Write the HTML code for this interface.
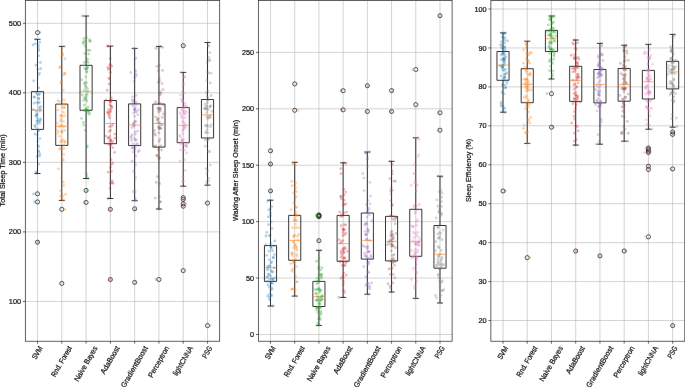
<!DOCTYPE html><html><head><meta charset="utf-8"><title>Sleep metrics box plots</title><style>
html,body{margin:0;padding:0;background:#fff;width:685px;height:387px;overflow:hidden}
svg{display:block}
text{font-family:"Liberation Sans",sans-serif;fill:#111;stroke:#111;stroke-width:0.22px}
</style></head><body>
<svg width="685" height="387" viewBox="0 0 685 387">
<defs><filter id="bl" x="0" y="0" width="685" height="387" filterUnits="userSpaceOnUse"><feConvolveMatrix order="3" kernelMatrix="0.00027 0.01580 0.00027 0.01580 0.93575 0.01580 0.00027 0.01580 0.00027" edgeMode="duplicate"/></filter></defs>
<rect width="685" height="387" fill="#fff"/>
<g filter="url(#bl)">
<path d="M37.5 0.5V341.25M61.79 0.5V341.25M86.08 0.5V341.25M110.37 0.5V341.25M134.65 0.5V341.25M158.94 0.5V341.25M183.23 0.5V341.25M207.52 0.5V341.25M25.36 301.42H219.66M25.36 231.89H219.66M25.36 162.36H219.66M25.36 92.83H219.66M25.36 23.3H219.66" stroke="#b0b0b0" stroke-width="0.75" fill="none" stroke-opacity="0.75"/>
<path d="M270.5 0.5V341.25M294.71 0.5V341.25M318.92 0.5V341.25M343.14 0.5V341.25M367.35 0.5V341.25M391.57 0.5V341.25M415.78 0.5V341.25M439.99 0.5V341.25M258.39 334.5H452.1M258.39 278.07H452.1M258.39 221.65H452.1M258.39 165.22H452.1M258.39 108.8H452.1M258.39 52.38H452.1" stroke="#b0b0b0" stroke-width="0.75" fill="none" stroke-opacity="0.75"/>
<path d="M503 0.5V341.25M527.23 0.5V341.25M551.47 0.5V341.25M575.71 0.5V341.25M599.94 0.5V341.25M624.18 0.5V341.25M648.42 0.5V341.25M672.65 0.5V341.25M490.88 320.52H684.77M490.88 281.58H684.77M490.88 242.64H684.77M490.88 203.7H684.77M490.88 164.76H684.77M490.88 125.82H684.77M490.88 86.88H684.77M490.88 47.94H684.77M490.88 9H684.77" stroke="#b0b0b0" stroke-width="0.75" fill="none" stroke-opacity="0.75"/>
<path d="M31.43 91.6H43.58V129.4H31.43ZM37.5 91.6V39.3M37.5 129.4V173.5M34.47 39.3H40.54M34.47 173.5H40.54M55.72 104.1H67.86V145.4H55.72ZM61.79 104.1V46.4M61.79 145.4V200.4M58.76 46.4H64.83M58.76 200.4H64.83M80.01 65.3H92.15V110.3H80.01ZM86.08 65.3V16M86.08 110.3V178.5M83.04 16H89.11M83.04 178.5H89.11M104.29 100.5H116.44V143.7H104.29ZM110.37 100.5V46.1M110.37 143.7V198.5M107.33 46.1H113.4M107.33 198.5H113.4M128.58 103.9H140.73V145.6H128.58ZM134.65 103.9V48.4M134.65 145.6V200.7M131.62 48.4H137.69M131.62 200.7H137.69M152.87 104.1H165.01V147.1H152.87ZM158.94 104.1V46.4M158.94 147.1V209M155.91 46.4H161.98M155.91 209H161.98M177.16 107.6H189.3V142.7H177.16ZM183.23 107.6V72.4M183.23 142.7V186.2M180.19 72.4H186.26M180.19 186.2H186.26M201.44 99.5H213.59V138H201.44ZM207.52 99.5V42.5M207.52 138V185.2M204.48 42.5H210.55M204.48 185.2H210.55" stroke="#000" stroke-width="0.8" fill="none"/>
<path d="M31.43 110H43.58M55.72 126.2H67.86M80.01 91.3H92.15M104.29 123.5H116.44M128.58 125H140.73M152.87 123.5H165.01M177.16 125.3H189.3M201.44 114.9H213.59" stroke="#ff7f0e" stroke-width="0.65" fill="none"/>
<g fill="none" stroke="#1a1a1a" stroke-width="0.75"><circle cx="37.5" cy="32.6" r="2.05"/><circle cx="37.5" cy="193.8" r="2.05"/><circle cx="37.5" cy="201.9" r="2.05"/><circle cx="37.5" cy="242.2" r="2.05"/><circle cx="61.79" cy="209.3" r="2.05"/><circle cx="61.79" cy="283.4" r="2.05"/><circle cx="86.08" cy="190.4" r="2.05"/><circle cx="86.08" cy="202.4" r="2.05"/><circle cx="110.37" cy="209.3" r="2.05"/><circle cx="110.37" cy="279.5" r="2.05"/><circle cx="134.65" cy="208.8" r="2.05"/><circle cx="134.65" cy="282.4" r="2.05"/><circle cx="158.94" cy="279.5" r="2.05"/><circle cx="183.23" cy="45.7" r="2.05"/><circle cx="183.23" cy="197.6" r="2.05"/><circle cx="183.23" cy="199.4" r="2.05"/><circle cx="183.23" cy="203.9" r="2.05"/><circle cx="183.23" cy="206.2" r="2.05"/><circle cx="183.23" cy="270.6" r="2.05"/><circle cx="207.52" cy="203.1" r="2.05"/><circle cx="207.52" cy="325.6" r="2.05"/></g>
<g fill="#1f77b4" fill-opacity="0.33"><circle cx="35.57" cy="39.3" r="1.4"/><circle cx="36.44" cy="173.5" r="1.4"/><circle cx="40.08" cy="32.6" r="1.4"/><circle cx="33.44" cy="193.8" r="1.4"/><circle cx="34.59" cy="201.9" r="1.4"/><circle cx="37.98" cy="242.2" r="1.4"/><circle cx="40.39" cy="62.52" r="1.4"/><circle cx="38.66" cy="50.68" r="1.4"/><circle cx="33.7" cy="80.81" r="1.4"/><circle cx="33" cy="44.88" r="1.4"/><circle cx="38.22" cy="75.06" r="1.4"/><circle cx="36.03" cy="65.18" r="1.4"/><circle cx="35.26" cy="43.78" r="1.4"/><circle cx="39.46" cy="73.52" r="1.4"/><circle cx="39.71" cy="42.21" r="1.4"/><circle cx="37.82" cy="69.31" r="1.4"/><circle cx="38" cy="44.68" r="1.4"/><circle cx="38.37" cy="46.25" r="1.4"/><circle cx="40.69" cy="68.77" r="1.4"/><circle cx="38.74" cy="87.83" r="1.4"/><circle cx="38.54" cy="48.71" r="1.4"/><circle cx="38.6" cy="55.8" r="1.4"/><circle cx="34.37" cy="103.14" r="1.4"/><circle cx="40.07" cy="109.04" r="1.4"/><circle cx="39.41" cy="102.22" r="1.4"/><circle cx="38.56" cy="98.9" r="1.4"/><circle cx="33.56" cy="109.56" r="1.4"/><circle cx="36.24" cy="92.46" r="1.4"/><circle cx="39.19" cy="107.4" r="1.4"/><circle cx="33.88" cy="96.93" r="1.4"/><circle cx="37.14" cy="94.25" r="1.4"/><circle cx="39.54" cy="93.77" r="1.4"/><circle cx="34.88" cy="97.28" r="1.4"/><circle cx="40.72" cy="106.62" r="1.4"/><circle cx="38.61" cy="94.93" r="1.4"/><circle cx="37.2" cy="102.3" r="1.4"/><circle cx="38.15" cy="103.36" r="1.4"/><circle cx="38.8" cy="98.45" r="1.4"/><circle cx="37.74" cy="120.63" r="1.4"/><circle cx="39.8" cy="111.22" r="1.4"/><circle cx="36.18" cy="111.16" r="1.4"/><circle cx="36.67" cy="114" r="1.4"/><circle cx="39.59" cy="123.2" r="1.4"/><circle cx="37.56" cy="118.3" r="1.4"/><circle cx="35.74" cy="116.09" r="1.4"/><circle cx="39.4" cy="121.36" r="1.4"/><circle cx="40.43" cy="118.79" r="1.4"/><circle cx="36.61" cy="115.82" r="1.4"/><circle cx="34.74" cy="125.41" r="1.4"/><circle cx="37.23" cy="123.56" r="1.4"/><circle cx="37.21" cy="114.74" r="1.4"/><circle cx="36.91" cy="121.14" r="1.4"/><circle cx="40.31" cy="120.19" r="1.4"/><circle cx="35.45" cy="126.98" r="1.4"/><circle cx="40.02" cy="154.39" r="1.4"/><circle cx="34.97" cy="134.09" r="1.4"/><circle cx="35.93" cy="171.94" r="1.4"/><circle cx="38.77" cy="130.34" r="1.4"/><circle cx="39.76" cy="138.58" r="1.4"/><circle cx="39.22" cy="156.13" r="1.4"/><circle cx="38.19" cy="130.88" r="1.4"/><circle cx="37.79" cy="141.57" r="1.4"/><circle cx="37.81" cy="129.53" r="1.4"/><circle cx="38.65" cy="150.74" r="1.4"/><circle cx="37.15" cy="156.6" r="1.4"/><circle cx="38.06" cy="145.59" r="1.4"/><circle cx="38.65" cy="164.11" r="1.4"/><circle cx="37.51" cy="134.87" r="1.4"/><circle cx="39.03" cy="152.33" r="1.4"/><circle cx="38.64" cy="146.69" r="1.4"/></g>
<g fill="#ff7f0e" fill-opacity="0.33"><circle cx="64.32" cy="46.4" r="1.4"/><circle cx="63.28" cy="200.4" r="1.4"/><circle cx="64.74" cy="209.3" r="1.4"/><circle cx="59.92" cy="283.4" r="1.4"/><circle cx="61.79" cy="48.59" r="1.4"/><circle cx="59.51" cy="101.53" r="1.4"/><circle cx="63.32" cy="90.27" r="1.4"/><circle cx="64.97" cy="58.77" r="1.4"/><circle cx="60.01" cy="66.79" r="1.4"/><circle cx="64.91" cy="73.68" r="1.4"/><circle cx="63.77" cy="74.85" r="1.4"/><circle cx="61.44" cy="56.7" r="1.4"/><circle cx="57.85" cy="100.71" r="1.4"/><circle cx="64.6" cy="104.07" r="1.4"/><circle cx="61.6" cy="81.58" r="1.4"/><circle cx="60.59" cy="82.7" r="1.4"/><circle cx="62.59" cy="53.67" r="1.4"/><circle cx="62.61" cy="55.01" r="1.4"/><circle cx="64.79" cy="73.35" r="1.4"/><circle cx="59.75" cy="67.72" r="1.4"/><circle cx="64.06" cy="100.01" r="1.4"/><circle cx="64.77" cy="107.67" r="1.4"/><circle cx="64.7" cy="104.61" r="1.4"/><circle cx="61.43" cy="125.12" r="1.4"/><circle cx="60.3" cy="115.77" r="1.4"/><circle cx="63.83" cy="107.34" r="1.4"/><circle cx="62.02" cy="116.1" r="1.4"/><circle cx="62.04" cy="104.7" r="1.4"/><circle cx="64.64" cy="115.77" r="1.4"/><circle cx="61.26" cy="125.72" r="1.4"/><circle cx="57.29" cy="123.18" r="1.4"/><circle cx="61.02" cy="119.49" r="1.4"/><circle cx="58.08" cy="109.87" r="1.4"/><circle cx="63.43" cy="112.2" r="1.4"/><circle cx="62.43" cy="107.79" r="1.4"/><circle cx="60.57" cy="121.16" r="1.4"/><circle cx="61.77" cy="115.87" r="1.4"/><circle cx="63.46" cy="121.32" r="1.4"/><circle cx="61.95" cy="132.53" r="1.4"/><circle cx="64.44" cy="130.48" r="1.4"/><circle cx="61.67" cy="141.78" r="1.4"/><circle cx="63.87" cy="145.11" r="1.4"/><circle cx="64.77" cy="142.57" r="1.4"/><circle cx="65.01" cy="141.68" r="1.4"/><circle cx="60.45" cy="141.91" r="1.4"/><circle cx="63.55" cy="140.41" r="1.4"/><circle cx="58.04" cy="130.55" r="1.4"/><circle cx="59.62" cy="136.14" r="1.4"/><circle cx="57.87" cy="133.03" r="1.4"/><circle cx="63.93" cy="126.76" r="1.4"/><circle cx="59.33" cy="126.74" r="1.4"/><circle cx="61.77" cy="131.56" r="1.4"/><circle cx="61.41" cy="131.18" r="1.4"/><circle cx="61.73" cy="139.5" r="1.4"/><circle cx="60.61" cy="196.17" r="1.4"/><circle cx="62.26" cy="158.32" r="1.4"/><circle cx="65.37" cy="194.32" r="1.4"/><circle cx="61.88" cy="199.22" r="1.4"/><circle cx="62.85" cy="196.03" r="1.4"/><circle cx="63.79" cy="154.35" r="1.4"/><circle cx="61.4" cy="149.02" r="1.4"/><circle cx="59.27" cy="149.21" r="1.4"/><circle cx="60.68" cy="148.35" r="1.4"/><circle cx="63.94" cy="148.56" r="1.4"/><circle cx="58.5" cy="168.94" r="1.4"/><circle cx="60.6" cy="190.93" r="1.4"/><circle cx="63.81" cy="185.62" r="1.4"/><circle cx="63.38" cy="160.05" r="1.4"/><circle cx="61.81" cy="170.94" r="1.4"/><circle cx="63.4" cy="182.18" r="1.4"/></g>
<g fill="#2ca02c" fill-opacity="0.33"><circle cx="82.19" cy="16" r="1.4"/><circle cx="88.15" cy="178.5" r="1.4"/><circle cx="86.73" cy="190.4" r="1.4"/><circle cx="84.67" cy="202.4" r="1.4"/><circle cx="88.73" cy="54.07" r="1.4"/><circle cx="89.7" cy="41.03" r="1.4"/><circle cx="83.27" cy="43.69" r="1.4"/><circle cx="84.75" cy="53.47" r="1.4"/><circle cx="86.66" cy="60.99" r="1.4"/><circle cx="86.45" cy="37.85" r="1.4"/><circle cx="85.28" cy="46.2" r="1.4"/><circle cx="84.13" cy="40.92" r="1.4"/><circle cx="90.32" cy="41.25" r="1.4"/><circle cx="88.15" cy="50.15" r="1.4"/><circle cx="83.69" cy="38.3" r="1.4"/><circle cx="83.39" cy="42.29" r="1.4"/><circle cx="89.49" cy="39.57" r="1.4"/><circle cx="88.06" cy="62.42" r="1.4"/><circle cx="89.72" cy="50.47" r="1.4"/><circle cx="87.7" cy="59.21" r="1.4"/><circle cx="84.33" cy="62.45" r="1.4"/><circle cx="86.6" cy="72.05" r="1.4"/><circle cx="81.76" cy="79.85" r="1.4"/><circle cx="84.58" cy="89.82" r="1.4"/><circle cx="85.96" cy="87.14" r="1.4"/><circle cx="87.12" cy="68.87" r="1.4"/><circle cx="84.62" cy="68.46" r="1.4"/><circle cx="85.83" cy="76.8" r="1.4"/><circle cx="87" cy="67.19" r="1.4"/><circle cx="86.83" cy="71.56" r="1.4"/><circle cx="87.35" cy="67.2" r="1.4"/><circle cx="86.5" cy="82.71" r="1.4"/><circle cx="85.43" cy="85.68" r="1.4"/><circle cx="87.66" cy="88.62" r="1.4"/><circle cx="86.18" cy="69.32" r="1.4"/><circle cx="84.43" cy="83.92" r="1.4"/><circle cx="84.83" cy="82.47" r="1.4"/><circle cx="86.08" cy="69.02" r="1.4"/><circle cx="85.86" cy="108.07" r="1.4"/><circle cx="86.39" cy="109.68" r="1.4"/><circle cx="86.08" cy="95.47" r="1.4"/><circle cx="86.43" cy="109.4" r="1.4"/><circle cx="85.81" cy="98.87" r="1.4"/><circle cx="83.56" cy="100.56" r="1.4"/><circle cx="86.92" cy="110.11" r="1.4"/><circle cx="88.19" cy="107.12" r="1.4"/><circle cx="86.95" cy="94.37" r="1.4"/><circle cx="85.7" cy="99.5" r="1.4"/><circle cx="86.97" cy="101.1" r="1.4"/><circle cx="84.15" cy="97.74" r="1.4"/><circle cx="82.29" cy="95.02" r="1.4"/><circle cx="86.2" cy="97.35" r="1.4"/><circle cx="84.22" cy="105.02" r="1.4"/><circle cx="87.56" cy="91.67" r="1.4"/><circle cx="83.91" cy="124.99" r="1.4"/><circle cx="81.58" cy="118.39" r="1.4"/><circle cx="84" cy="110.3" r="1.4"/><circle cx="89.23" cy="114.16" r="1.4"/><circle cx="85.32" cy="130.3" r="1.4"/><circle cx="83.34" cy="122.28" r="1.4"/><circle cx="84.55" cy="110.35" r="1.4"/><circle cx="87.12" cy="175.89" r="1.4"/><circle cx="87.07" cy="147.05" r="1.4"/><circle cx="86.43" cy="173.59" r="1.4"/><circle cx="89.05" cy="110.49" r="1.4"/><circle cx="87.49" cy="112.47" r="1.4"/><circle cx="86.04" cy="110.32" r="1.4"/><circle cx="87.27" cy="145.93" r="1.4"/><circle cx="89.39" cy="112.58" r="1.4"/><circle cx="88.02" cy="110.64" r="1.4"/></g>
<g fill="#d62728" fill-opacity="0.33"><circle cx="108.25" cy="46.1" r="1.4"/><circle cx="108.21" cy="198.5" r="1.4"/><circle cx="110.2" cy="209.3" r="1.4"/><circle cx="110.38" cy="279.5" r="1.4"/><circle cx="111.35" cy="97.97" r="1.4"/><circle cx="107.19" cy="90.21" r="1.4"/><circle cx="107.89" cy="67.4" r="1.4"/><circle cx="110.32" cy="64.61" r="1.4"/><circle cx="109.97" cy="68.16" r="1.4"/><circle cx="109.74" cy="78.88" r="1.4"/><circle cx="110.24" cy="58.43" r="1.4"/><circle cx="108.85" cy="78.06" r="1.4"/><circle cx="111.77" cy="66.1" r="1.4"/><circle cx="111.07" cy="100.09" r="1.4"/><circle cx="110.19" cy="100.25" r="1.4"/><circle cx="109.02" cy="83.92" r="1.4"/><circle cx="110.02" cy="64.77" r="1.4"/><circle cx="105.87" cy="100.15" r="1.4"/><circle cx="108.4" cy="69.29" r="1.4"/><circle cx="110.44" cy="72.42" r="1.4"/><circle cx="107.36" cy="46.19" r="1.4"/><circle cx="110.77" cy="109.28" r="1.4"/><circle cx="110.66" cy="111.42" r="1.4"/><circle cx="107.61" cy="112.06" r="1.4"/><circle cx="109.87" cy="105.12" r="1.4"/><circle cx="109.74" cy="112.11" r="1.4"/><circle cx="111.29" cy="100.61" r="1.4"/><circle cx="111.59" cy="106.58" r="1.4"/><circle cx="110.29" cy="102.56" r="1.4"/><circle cx="108.66" cy="109.69" r="1.4"/><circle cx="110.08" cy="101.46" r="1.4"/><circle cx="110.24" cy="101.02" r="1.4"/><circle cx="111.84" cy="107.5" r="1.4"/><circle cx="110.95" cy="105.85" r="1.4"/><circle cx="108.92" cy="113.97" r="1.4"/><circle cx="107.66" cy="112.67" r="1.4"/><circle cx="109.62" cy="117.76" r="1.4"/><circle cx="108.89" cy="115.62" r="1.4"/><circle cx="108.14" cy="137.96" r="1.4"/><circle cx="110.13" cy="141.26" r="1.4"/><circle cx="109.38" cy="131.37" r="1.4"/><circle cx="110.58" cy="130.09" r="1.4"/><circle cx="111.41" cy="143.39" r="1.4"/><circle cx="109.54" cy="126.52" r="1.4"/><circle cx="114.87" cy="138.13" r="1.4"/><circle cx="109.72" cy="136.49" r="1.4"/><circle cx="112.57" cy="124.38" r="1.4"/><circle cx="110.61" cy="140.37" r="1.4"/><circle cx="112.6" cy="141.52" r="1.4"/><circle cx="105.87" cy="136.17" r="1.4"/><circle cx="108.86" cy="138.32" r="1.4"/><circle cx="110.86" cy="139.91" r="1.4"/><circle cx="111.57" cy="126.31" r="1.4"/><circle cx="114.87" cy="134.08" r="1.4"/><circle cx="111.01" cy="159.69" r="1.4"/><circle cx="112.93" cy="183.31" r="1.4"/><circle cx="111.9" cy="180.76" r="1.4"/><circle cx="112.26" cy="182.58" r="1.4"/><circle cx="111.39" cy="164.52" r="1.4"/><circle cx="110.05" cy="188.39" r="1.4"/><circle cx="111.38" cy="171.28" r="1.4"/><circle cx="108.21" cy="172.04" r="1.4"/><circle cx="112.73" cy="147.59" r="1.4"/><circle cx="108.33" cy="143.81" r="1.4"/><circle cx="110.86" cy="145.15" r="1.4"/><circle cx="114.61" cy="152.44" r="1.4"/><circle cx="109.92" cy="144.65" r="1.4"/><circle cx="110.41" cy="183.38" r="1.4"/><circle cx="112.69" cy="162.91" r="1.4"/><circle cx="110.42" cy="167.4" r="1.4"/></g>
<g fill="#9467bd" fill-opacity="0.33"><circle cx="133.61" cy="48.4" r="1.4"/><circle cx="134.99" cy="200.7" r="1.4"/><circle cx="134.96" cy="208.8" r="1.4"/><circle cx="135.47" cy="282.4" r="1.4"/><circle cx="134.18" cy="81.31" r="1.4"/><circle cx="135.39" cy="71.53" r="1.4"/><circle cx="134.76" cy="59.69" r="1.4"/><circle cx="136.2" cy="74.41" r="1.4"/><circle cx="130.87" cy="72.51" r="1.4"/><circle cx="132.88" cy="100.36" r="1.4"/><circle cx="134.65" cy="48.54" r="1.4"/><circle cx="132.59" cy="96.99" r="1.4"/><circle cx="132.56" cy="100.32" r="1.4"/><circle cx="135.91" cy="58.09" r="1.4"/><circle cx="133.35" cy="102.79" r="1.4"/><circle cx="135.92" cy="95.37" r="1.4"/><circle cx="136.15" cy="102.19" r="1.4"/><circle cx="135.27" cy="70.69" r="1.4"/><circle cx="135.67" cy="76.29" r="1.4"/><circle cx="134.44" cy="77.65" r="1.4"/><circle cx="131.84" cy="103.9" r="1.4"/><circle cx="134.59" cy="116.33" r="1.4"/><circle cx="135.56" cy="111.51" r="1.4"/><circle cx="133.59" cy="112.93" r="1.4"/><circle cx="134.45" cy="109.71" r="1.4"/><circle cx="136.15" cy="104.92" r="1.4"/><circle cx="132.9" cy="106.05" r="1.4"/><circle cx="135.93" cy="121.51" r="1.4"/><circle cx="138.38" cy="109.93" r="1.4"/><circle cx="133.54" cy="123.64" r="1.4"/><circle cx="134.95" cy="109.16" r="1.4"/><circle cx="134.35" cy="109.51" r="1.4"/><circle cx="137.73" cy="114.68" r="1.4"/><circle cx="135.29" cy="107.91" r="1.4"/><circle cx="136.45" cy="111.78" r="1.4"/><circle cx="133.27" cy="124.08" r="1.4"/><circle cx="134.62" cy="122.56" r="1.4"/><circle cx="134.63" cy="121.03" r="1.4"/><circle cx="131.1" cy="138" r="1.4"/><circle cx="137.54" cy="143.82" r="1.4"/><circle cx="136.45" cy="144.38" r="1.4"/><circle cx="131.16" cy="136.31" r="1.4"/><circle cx="136.14" cy="139.82" r="1.4"/><circle cx="134.39" cy="126.02" r="1.4"/><circle cx="135.55" cy="140.09" r="1.4"/><circle cx="135.39" cy="134.29" r="1.4"/><circle cx="131.66" cy="140.5" r="1.4"/><circle cx="134.23" cy="138.28" r="1.4"/><circle cx="137.64" cy="130.9" r="1.4"/><circle cx="133.5" cy="126.01" r="1.4"/><circle cx="132.61" cy="144.09" r="1.4"/><circle cx="131.93" cy="127.62" r="1.4"/><circle cx="132.21" cy="134.73" r="1.4"/><circle cx="135.32" cy="132.08" r="1.4"/><circle cx="138.04" cy="151.83" r="1.4"/><circle cx="135.51" cy="177.57" r="1.4"/><circle cx="135.14" cy="198.37" r="1.4"/><circle cx="139.12" cy="150.48" r="1.4"/><circle cx="133.61" cy="171.4" r="1.4"/><circle cx="133.31" cy="151.94" r="1.4"/><circle cx="135.71" cy="164.84" r="1.4"/><circle cx="135.75" cy="155.92" r="1.4"/><circle cx="132.62" cy="147.81" r="1.4"/><circle cx="132.31" cy="147.67" r="1.4"/><circle cx="135.24" cy="148.86" r="1.4"/><circle cx="135.15" cy="191.73" r="1.4"/><circle cx="132.04" cy="161.26" r="1.4"/><circle cx="134.25" cy="149.21" r="1.4"/><circle cx="133.57" cy="191.75" r="1.4"/><circle cx="135.57" cy="200.35" r="1.4"/></g>
<g fill="#8c564b" fill-opacity="0.33"><circle cx="160.56" cy="46.4" r="1.4"/><circle cx="158.97" cy="209" r="1.4"/><circle cx="155.97" cy="279.5" r="1.4"/><circle cx="162.95" cy="89.56" r="1.4"/><circle cx="162.62" cy="47.3" r="1.4"/><circle cx="162.56" cy="70.42" r="1.4"/><circle cx="159.44" cy="81.25" r="1.4"/><circle cx="160.75" cy="103.62" r="1.4"/><circle cx="160.56" cy="91.87" r="1.4"/><circle cx="155.59" cy="101.81" r="1.4"/><circle cx="158.36" cy="82.17" r="1.4"/><circle cx="159.2" cy="65.48" r="1.4"/><circle cx="157.04" cy="66.4" r="1.4"/><circle cx="159.26" cy="103.65" r="1.4"/><circle cx="160.09" cy="94.84" r="1.4"/><circle cx="158.31" cy="70.84" r="1.4"/><circle cx="156.14" cy="48.28" r="1.4"/><circle cx="162.15" cy="83.6" r="1.4"/><circle cx="160.96" cy="93.38" r="1.4"/><circle cx="159.33" cy="78.61" r="1.4"/><circle cx="160.23" cy="109.09" r="1.4"/><circle cx="155.78" cy="117.05" r="1.4"/><circle cx="159.46" cy="122.05" r="1.4"/><circle cx="159.08" cy="108.5" r="1.4"/><circle cx="163.09" cy="104.76" r="1.4"/><circle cx="160.66" cy="110.66" r="1.4"/><circle cx="158.8" cy="112.26" r="1.4"/><circle cx="162.26" cy="117.34" r="1.4"/><circle cx="160.4" cy="107.94" r="1.4"/><circle cx="157.86" cy="119.56" r="1.4"/><circle cx="158.24" cy="118.44" r="1.4"/><circle cx="163.44" cy="113.89" r="1.4"/><circle cx="157.78" cy="108.08" r="1.4"/><circle cx="157.9" cy="122.92" r="1.4"/><circle cx="158.58" cy="110.15" r="1.4"/><circle cx="157.23" cy="120.01" r="1.4"/><circle cx="158.91" cy="108.58" r="1.4"/><circle cx="159.11" cy="128.73" r="1.4"/><circle cx="159.1" cy="141.45" r="1.4"/><circle cx="154.49" cy="130.46" r="1.4"/><circle cx="155.75" cy="145.97" r="1.4"/><circle cx="155.37" cy="135.2" r="1.4"/><circle cx="160.38" cy="127.92" r="1.4"/><circle cx="159.16" cy="128.77" r="1.4"/><circle cx="154.44" cy="133.34" r="1.4"/><circle cx="159.72" cy="139.2" r="1.4"/><circle cx="160.84" cy="145.89" r="1.4"/><circle cx="158.38" cy="126.95" r="1.4"/><circle cx="158.93" cy="132.79" r="1.4"/><circle cx="161.06" cy="128.53" r="1.4"/><circle cx="154.44" cy="146.49" r="1.4"/><circle cx="159.13" cy="126.85" r="1.4"/><circle cx="160.41" cy="124.72" r="1.4"/><circle cx="162.23" cy="124.92" r="1.4"/><circle cx="158.67" cy="158.64" r="1.4"/><circle cx="155.23" cy="198.12" r="1.4"/><circle cx="159.33" cy="196.64" r="1.4"/><circle cx="156.23" cy="182.47" r="1.4"/><circle cx="158.12" cy="208.73" r="1.4"/><circle cx="160.49" cy="201.59" r="1.4"/><circle cx="156.68" cy="155.48" r="1.4"/><circle cx="161.61" cy="150.08" r="1.4"/><circle cx="160.11" cy="202.04" r="1.4"/><circle cx="159.57" cy="183.65" r="1.4"/><circle cx="158.97" cy="147.23" r="1.4"/><circle cx="157.43" cy="176.76" r="1.4"/><circle cx="159.42" cy="157.88" r="1.4"/><circle cx="159.15" cy="157.63" r="1.4"/><circle cx="157.26" cy="155.59" r="1.4"/><circle cx="158.37" cy="149.63" r="1.4"/></g>
<g fill="#e377c2" fill-opacity="0.33"><circle cx="180.87" cy="72.4" r="1.4"/><circle cx="181.53" cy="186.2" r="1.4"/><circle cx="183.32" cy="45.7" r="1.4"/><circle cx="183.52" cy="197.6" r="1.4"/><circle cx="181.82" cy="199.4" r="1.4"/><circle cx="185.89" cy="203.9" r="1.4"/><circle cx="183.91" cy="206.2" r="1.4"/><circle cx="184.82" cy="270.6" r="1.4"/><circle cx="184.26" cy="107.5" r="1.4"/><circle cx="186.64" cy="106.2" r="1.4"/><circle cx="182.54" cy="107.55" r="1.4"/><circle cx="183.01" cy="85.41" r="1.4"/><circle cx="184.84" cy="76.74" r="1.4"/><circle cx="184.42" cy="77.37" r="1.4"/><circle cx="180.51" cy="95.1" r="1.4"/><circle cx="182.34" cy="102.1" r="1.4"/><circle cx="184.23" cy="93.12" r="1.4"/><circle cx="183.88" cy="84.01" r="1.4"/><circle cx="182.54" cy="91.92" r="1.4"/><circle cx="181.29" cy="99.36" r="1.4"/><circle cx="182.87" cy="101.05" r="1.4"/><circle cx="184.91" cy="103.15" r="1.4"/><circle cx="184.89" cy="105.49" r="1.4"/><circle cx="182.73" cy="100.76" r="1.4"/><circle cx="181.51" cy="109.74" r="1.4"/><circle cx="182.47" cy="122.48" r="1.4"/><circle cx="179.77" cy="112.8" r="1.4"/><circle cx="185.23" cy="117.63" r="1.4"/><circle cx="185.13" cy="114.2" r="1.4"/><circle cx="183.19" cy="120.66" r="1.4"/><circle cx="184.28" cy="111.13" r="1.4"/><circle cx="186.28" cy="111.98" r="1.4"/><circle cx="183.29" cy="111.94" r="1.4"/><circle cx="183.44" cy="110.31" r="1.4"/><circle cx="184.94" cy="123.25" r="1.4"/><circle cx="182.01" cy="117.84" r="1.4"/><circle cx="184.1" cy="113.38" r="1.4"/><circle cx="181.38" cy="114.61" r="1.4"/><circle cx="184.88" cy="125.17" r="1.4"/><circle cx="181.74" cy="116.58" r="1.4"/><circle cx="183.41" cy="129.33" r="1.4"/><circle cx="183.52" cy="139.37" r="1.4"/><circle cx="180.52" cy="136.67" r="1.4"/><circle cx="182.32" cy="142.54" r="1.4"/><circle cx="183.96" cy="127.08" r="1.4"/><circle cx="182.77" cy="133.56" r="1.4"/><circle cx="181.84" cy="139.55" r="1.4"/><circle cx="181.89" cy="139.93" r="1.4"/><circle cx="182.11" cy="141.21" r="1.4"/><circle cx="183.2" cy="126" r="1.4"/><circle cx="182.72" cy="130.41" r="1.4"/><circle cx="185.6" cy="127.37" r="1.4"/><circle cx="184.09" cy="128.6" r="1.4"/><circle cx="182.8" cy="142.23" r="1.4"/><circle cx="179.62" cy="135.45" r="1.4"/><circle cx="183.44" cy="180.89" r="1.4"/><circle cx="184.53" cy="150.04" r="1.4"/><circle cx="182.95" cy="176.28" r="1.4"/><circle cx="186.58" cy="153" r="1.4"/><circle cx="186.65" cy="146.55" r="1.4"/><circle cx="185.5" cy="170.37" r="1.4"/><circle cx="182.88" cy="182.04" r="1.4"/><circle cx="187.54" cy="143.46" r="1.4"/><circle cx="184.73" cy="159.84" r="1.4"/><circle cx="179.93" cy="161.1" r="1.4"/><circle cx="186.03" cy="145.5" r="1.4"/><circle cx="180.51" cy="149.92" r="1.4"/><circle cx="180.67" cy="143.99" r="1.4"/><circle cx="185.1" cy="145.19" r="1.4"/><circle cx="186.2" cy="146.42" r="1.4"/></g>
<g fill="#7f7f7f" fill-opacity="0.33"><circle cx="208.18" cy="42.5" r="1.4"/><circle cx="207.21" cy="185.2" r="1.4"/><circle cx="205.53" cy="203.1" r="1.4"/><circle cx="210.22" cy="325.6" r="1.4"/><circle cx="209.83" cy="60.39" r="1.4"/><circle cx="211.1" cy="73.31" r="1.4"/><circle cx="206.94" cy="96.07" r="1.4"/><circle cx="211.15" cy="95.48" r="1.4"/><circle cx="208.98" cy="57.4" r="1.4"/><circle cx="209.37" cy="60.09" r="1.4"/><circle cx="208.71" cy="72.99" r="1.4"/><circle cx="206.86" cy="80.42" r="1.4"/><circle cx="207.32" cy="71.91" r="1.4"/><circle cx="209.88" cy="52.69" r="1.4"/><circle cx="207.29" cy="62.26" r="1.4"/><circle cx="208.01" cy="91.27" r="1.4"/><circle cx="208.01" cy="97.62" r="1.4"/><circle cx="208.6" cy="45.98" r="1.4"/><circle cx="210.3" cy="83" r="1.4"/><circle cx="206.34" cy="92.69" r="1.4"/><circle cx="208.48" cy="45.73" r="1.4"/><circle cx="206.77" cy="112.41" r="1.4"/><circle cx="207.73" cy="101.31" r="1.4"/><circle cx="206.55" cy="108.73" r="1.4"/><circle cx="204.72" cy="107.97" r="1.4"/><circle cx="206.97" cy="109.16" r="1.4"/><circle cx="204.93" cy="104.22" r="1.4"/><circle cx="210.65" cy="105.97" r="1.4"/><circle cx="205.04" cy="108.47" r="1.4"/><circle cx="206.62" cy="106.06" r="1.4"/><circle cx="208.21" cy="109.65" r="1.4"/><circle cx="206.88" cy="106.38" r="1.4"/><circle cx="210.33" cy="106.25" r="1.4"/><circle cx="207.39" cy="99.86" r="1.4"/><circle cx="204.7" cy="109.03" r="1.4"/><circle cx="209.72" cy="107.04" r="1.4"/><circle cx="206.95" cy="103.12" r="1.4"/><circle cx="212.02" cy="111.26" r="1.4"/><circle cx="205.84" cy="132.92" r="1.4"/><circle cx="206.63" cy="125.49" r="1.4"/><circle cx="207.71" cy="119.05" r="1.4"/><circle cx="205.36" cy="125.83" r="1.4"/><circle cx="208.98" cy="117.37" r="1.4"/><circle cx="210.47" cy="117.87" r="1.4"/><circle cx="211.05" cy="124.85" r="1.4"/><circle cx="208.62" cy="117.02" r="1.4"/><circle cx="207.45" cy="125.11" r="1.4"/><circle cx="210.37" cy="126.68" r="1.4"/><circle cx="210.16" cy="115.84" r="1.4"/><circle cx="207.25" cy="129.6" r="1.4"/><circle cx="206.62" cy="116.8" r="1.4"/><circle cx="206.03" cy="131.84" r="1.4"/><circle cx="208.04" cy="132.86" r="1.4"/><circle cx="207.52" cy="126.72" r="1.4"/><circle cx="209.15" cy="138.25" r="1.4"/><circle cx="209.75" cy="151.75" r="1.4"/><circle cx="205.33" cy="146.19" r="1.4"/><circle cx="208.51" cy="181.11" r="1.4"/><circle cx="208.36" cy="139.3" r="1.4"/><circle cx="206.87" cy="173.76" r="1.4"/><circle cx="207.93" cy="184.87" r="1.4"/><circle cx="210.4" cy="164.92" r="1.4"/><circle cx="207.66" cy="170.66" r="1.4"/><circle cx="207.54" cy="140.46" r="1.4"/><circle cx="206.94" cy="183.66" r="1.4"/><circle cx="208.27" cy="151.16" r="1.4"/><circle cx="206.63" cy="181.58" r="1.4"/><circle cx="208.63" cy="178.31" r="1.4"/><circle cx="205.21" cy="139.84" r="1.4"/><circle cx="206.18" cy="168.77" r="1.4"/></g>
<rect x="25.36" y="0.5" width="194.3" height="340.75" fill="none" stroke="#3a3a3a" stroke-width="0.8"/>
<path d="M22.96 301.42H25.36M22.96 231.89H25.36M22.96 162.36H25.36M22.96 92.83H25.36M22.96 23.3H25.36M37.5 341.25V343.65M61.79 341.25V343.65M86.08 341.25V343.65M110.37 341.25V343.65M134.65 341.25V343.65M158.94 341.25V343.65M183.23 341.25V343.65M207.52 341.25V343.65" stroke="#3a3a3a" stroke-width="0.8" fill="none"/>
<text x="21.06" y="304.02" font-size="7.3" text-anchor="end">100</text>
<text x="21.06" y="234.49" font-size="7.3" text-anchor="end">200</text>
<text x="21.06" y="164.96" font-size="7.3" text-anchor="end">300</text>
<text x="21.06" y="95.43" font-size="7.3" text-anchor="end">400</text>
<text x="21.06" y="25.9" font-size="7.3" text-anchor="end">500</text>
<text transform="translate(5.06 170.4) rotate(-90)" font-size="7.24" text-anchor="middle" textLength="72" lengthAdjust="spacingAndGlyphs">Total Sleep Time (min)</text>
<text transform="translate(42.9 348) rotate(-60)" font-size="7.6" text-anchor="end" textLength="14" lengthAdjust="spacingAndGlyphs">SVM</text>
<text transform="translate(72.24 348) rotate(-60)" font-size="7.6" text-anchor="end" textLength="34.2" lengthAdjust="spacingAndGlyphs">Rnd. Forest</text>
<text transform="translate(97.8 348) rotate(-60)" font-size="7.6" text-anchor="end" textLength="39.3" lengthAdjust="spacingAndGlyphs">Naive Bayes</text>
<text transform="translate(119.92 348) rotate(-60)" font-size="7.6" text-anchor="end" textLength="30.6" lengthAdjust="spacingAndGlyphs">AdaBoost</text>
<text transform="translate(148.18 348) rotate(-60)" font-size="7.6" text-anchor="end" textLength="46.5" lengthAdjust="spacingAndGlyphs">GradientBoost</text>
<text transform="translate(169.54 348) rotate(-60)" font-size="7.6" text-anchor="end" textLength="34.8" lengthAdjust="spacingAndGlyphs">Perceptron</text>
<text transform="translate(193.28 348) rotate(-60)" font-size="7.6" text-anchor="end" textLength="32.6" lengthAdjust="spacingAndGlyphs">lightCNNA</text>
<text transform="translate(212.57 348) rotate(-60)" font-size="7.6" text-anchor="end" textLength="12.6" lengthAdjust="spacingAndGlyphs">PSG</text>
<path d="M264.44 245.6H276.55V281.4H264.44ZM270.5 245.6V200.2M270.5 281.4V306M267.47 200.2H273.52M267.47 306H273.52M288.66 215.4H300.76V260.3H288.66ZM294.71 215.4V162.3M294.71 260.3V296.1M291.68 162.3H297.74M291.68 296.1H297.74M312.87 281.4H324.98V306.5H312.87ZM318.92 281.4V250.3M318.92 306.5V325.4M315.9 250.3H321.95M315.9 325.4H321.95M337.08 215.4H349.19V261.3H337.08ZM343.14 215.4V162.8M343.14 261.3V297.4M340.11 162.8H346.16M340.11 297.4H346.16M361.3 213H373.41V259.1H361.3ZM367.35 213V152M367.35 259.1V294.2M364.33 152H370.38M364.33 294.2H370.38M385.51 216.4H397.62V260.9H385.51ZM391.57 216.4V161.3M391.57 260.9V292M388.54 161.3H394.59M388.54 292H394.59M409.73 209.3H421.83V256.3H409.73ZM415.78 209.3V137.8M415.78 256.3V298.4M412.75 137.8H418.81M412.75 298.4H418.81M433.94 225.5H446.05V268.2H433.94ZM439.99 225.5V176.2M439.99 268.2V303M436.97 176.2H443.02M436.97 303H443.02" stroke="#000" stroke-width="0.8" fill="none"/>
<path d="M264.44 267.7H276.55M288.66 240.4H300.76M312.87 296.6H324.98M337.08 243.6H349.19M361.3 240.4H373.41M385.51 241.4H397.62M409.73 241.7H421.83M433.94 254.3H446.05" stroke="#ff7f0e" stroke-width="0.65" fill="none"/>
<g fill="none" stroke="#1a1a1a" stroke-width="0.75"><circle cx="270.5" cy="150.8" r="2.05"/><circle cx="270.5" cy="164" r="2.05"/><circle cx="270.5" cy="190.9" r="2.05"/><circle cx="294.71" cy="83.9" r="2.05"/><circle cx="294.71" cy="110.3" r="2.05"/><circle cx="318.92" cy="214.9" r="2.05"/><circle cx="318.92" cy="215.5" r="2.05"/><circle cx="318.92" cy="216.1" r="2.05"/><circle cx="318.92" cy="216.7" r="2.05"/><circle cx="318.92" cy="240.7" r="2.05"/><circle cx="343.14" cy="90.7" r="2.05"/><circle cx="343.14" cy="109.8" r="2.05"/><circle cx="367.35" cy="85.7" r="2.05"/><circle cx="367.35" cy="111.5" r="2.05"/><circle cx="391.57" cy="90.6" r="2.05"/><circle cx="391.57" cy="111.5" r="2.05"/><circle cx="415.78" cy="69.5" r="2.05"/><circle cx="415.78" cy="104.6" r="2.05"/><circle cx="439.99" cy="15.7" r="2.05"/><circle cx="439.99" cy="112.7" r="2.05"/><circle cx="439.99" cy="130.2" r="2.05"/></g>
<g fill="#1f77b4" fill-opacity="0.33"><circle cx="270.22" cy="200.2" r="1.4"/><circle cx="273.35" cy="306" r="1.4"/><circle cx="271.86" cy="150.8" r="1.4"/><circle cx="270.19" cy="164" r="1.4"/><circle cx="270.75" cy="190.9" r="1.4"/><circle cx="270.26" cy="213.37" r="1.4"/><circle cx="270.4" cy="235.13" r="1.4"/><circle cx="271.96" cy="228.33" r="1.4"/><circle cx="270.31" cy="209.06" r="1.4"/><circle cx="266" cy="244.88" r="1.4"/><circle cx="270.45" cy="215.73" r="1.4"/><circle cx="268.72" cy="209.98" r="1.4"/><circle cx="271.8" cy="206.57" r="1.4"/><circle cx="269.28" cy="235.72" r="1.4"/><circle cx="270.79" cy="243.5" r="1.4"/><circle cx="274.85" cy="240.98" r="1.4"/><circle cx="268.4" cy="224.6" r="1.4"/><circle cx="268.25" cy="216.95" r="1.4"/><circle cx="267.67" cy="200.98" r="1.4"/><circle cx="266" cy="236" r="1.4"/><circle cx="266.74" cy="232.45" r="1.4"/><circle cx="271.23" cy="221.83" r="1.4"/><circle cx="269.22" cy="259.87" r="1.4"/><circle cx="266.76" cy="255.41" r="1.4"/><circle cx="267.53" cy="266.31" r="1.4"/><circle cx="271.73" cy="261.81" r="1.4"/><circle cx="268.95" cy="251.09" r="1.4"/><circle cx="269.76" cy="265.57" r="1.4"/><circle cx="271.16" cy="246.57" r="1.4"/><circle cx="273.21" cy="257.35" r="1.4"/><circle cx="274.38" cy="254.57" r="1.4"/><circle cx="272.56" cy="250.85" r="1.4"/><circle cx="270.78" cy="246.89" r="1.4"/><circle cx="270.87" cy="262.81" r="1.4"/><circle cx="274.1" cy="245.87" r="1.4"/><circle cx="273.35" cy="257.78" r="1.4"/><circle cx="269.88" cy="266.39" r="1.4"/><circle cx="271.41" cy="248.74" r="1.4"/><circle cx="271.07" cy="270.43" r="1.4"/><circle cx="270.6" cy="276.03" r="1.4"/><circle cx="269.5" cy="274.65" r="1.4"/><circle cx="267.84" cy="276.49" r="1.4"/><circle cx="269.43" cy="278.84" r="1.4"/><circle cx="267.41" cy="270.09" r="1.4"/><circle cx="272.94" cy="271.94" r="1.4"/><circle cx="271.57" cy="271.81" r="1.4"/><circle cx="268.08" cy="268.36" r="1.4"/><circle cx="273.29" cy="279.88" r="1.4"/><circle cx="272.28" cy="278.43" r="1.4"/><circle cx="266.68" cy="277.5" r="1.4"/><circle cx="274.18" cy="267.79" r="1.4"/><circle cx="272.12" cy="279.27" r="1.4"/><circle cx="274.63" cy="277.91" r="1.4"/><circle cx="268.03" cy="274.07" r="1.4"/><circle cx="271.56" cy="295.77" r="1.4"/><circle cx="271.34" cy="287.3" r="1.4"/><circle cx="270.9" cy="283.09" r="1.4"/><circle cx="270.84" cy="281.83" r="1.4"/><circle cx="272.6" cy="283.18" r="1.4"/><circle cx="267.51" cy="281.47" r="1.4"/><circle cx="268.01" cy="284.85" r="1.4"/><circle cx="267.71" cy="296.04" r="1.4"/><circle cx="269.38" cy="294.18" r="1.4"/><circle cx="269.29" cy="299.58" r="1.4"/><circle cx="271.23" cy="294.74" r="1.4"/><circle cx="271.03" cy="283.67" r="1.4"/><circle cx="270.56" cy="289.89" r="1.4"/><circle cx="269.14" cy="286.92" r="1.4"/><circle cx="269.61" cy="297.44" r="1.4"/><circle cx="272.4" cy="289.07" r="1.4"/></g>
<g fill="#ff7f0e" fill-opacity="0.33"><circle cx="293.68" cy="162.3" r="1.4"/><circle cx="296.16" cy="296.1" r="1.4"/><circle cx="296.87" cy="83.9" r="1.4"/><circle cx="297.9" cy="110.3" r="1.4"/><circle cx="292.98" cy="163.96" r="1.4"/><circle cx="291.91" cy="181.37" r="1.4"/><circle cx="295.75" cy="183.13" r="1.4"/><circle cx="296.59" cy="207.35" r="1.4"/><circle cx="295.1" cy="188.72" r="1.4"/><circle cx="292.11" cy="185.68" r="1.4"/><circle cx="296.27" cy="215.04" r="1.4"/><circle cx="296.3" cy="196.84" r="1.4"/><circle cx="295.82" cy="212.36" r="1.4"/><circle cx="293.74" cy="202.88" r="1.4"/><circle cx="295.32" cy="164.75" r="1.4"/><circle cx="296.29" cy="191.51" r="1.4"/><circle cx="293.59" cy="192.94" r="1.4"/><circle cx="291.02" cy="209.66" r="1.4"/><circle cx="295.37" cy="187.37" r="1.4"/><circle cx="295.67" cy="206.88" r="1.4"/><circle cx="294.74" cy="198.72" r="1.4"/><circle cx="296.49" cy="220.81" r="1.4"/><circle cx="293.54" cy="236.96" r="1.4"/><circle cx="294.55" cy="217.67" r="1.4"/><circle cx="294.1" cy="235.9" r="1.4"/><circle cx="295.85" cy="219.66" r="1.4"/><circle cx="297.9" cy="215.43" r="1.4"/><circle cx="294.21" cy="220.45" r="1.4"/><circle cx="298.82" cy="234.45" r="1.4"/><circle cx="297.77" cy="239.85" r="1.4"/><circle cx="296.29" cy="215.51" r="1.4"/><circle cx="295.88" cy="227.67" r="1.4"/><circle cx="298.25" cy="227.69" r="1.4"/><circle cx="294.35" cy="235.32" r="1.4"/><circle cx="294.49" cy="220.01" r="1.4"/><circle cx="292.59" cy="227.76" r="1.4"/><circle cx="295.66" cy="224.08" r="1.4"/><circle cx="297.4" cy="236.2" r="1.4"/><circle cx="295.78" cy="245.59" r="1.4"/><circle cx="295.56" cy="259.18" r="1.4"/><circle cx="294.31" cy="246.05" r="1.4"/><circle cx="295.05" cy="244.67" r="1.4"/><circle cx="291.86" cy="254.32" r="1.4"/><circle cx="296.81" cy="250.32" r="1.4"/><circle cx="293.89" cy="242.59" r="1.4"/><circle cx="292.5" cy="253.07" r="1.4"/><circle cx="293.21" cy="242.01" r="1.4"/><circle cx="293.06" cy="256.08" r="1.4"/><circle cx="296.42" cy="254.27" r="1.4"/><circle cx="296.83" cy="256.06" r="1.4"/><circle cx="292" cy="252.9" r="1.4"/><circle cx="296.56" cy="247.48" r="1.4"/><circle cx="296.49" cy="248.39" r="1.4"/><circle cx="293.55" cy="248.25" r="1.4"/><circle cx="291.74" cy="289.35" r="1.4"/><circle cx="293.22" cy="260.73" r="1.4"/><circle cx="293.44" cy="289.23" r="1.4"/><circle cx="295.4" cy="260.35" r="1.4"/><circle cx="294" cy="262.39" r="1.4"/><circle cx="290.65" cy="263.54" r="1.4"/><circle cx="295.18" cy="289.99" r="1.4"/><circle cx="291.64" cy="270.62" r="1.4"/><circle cx="296.52" cy="266.55" r="1.4"/><circle cx="292.3" cy="288.97" r="1.4"/><circle cx="293.32" cy="262.91" r="1.4"/><circle cx="293" cy="269.18" r="1.4"/><circle cx="293.63" cy="271.78" r="1.4"/><circle cx="297.31" cy="281.86" r="1.4"/><circle cx="296.41" cy="281.78" r="1.4"/><circle cx="295.91" cy="276.62" r="1.4"/></g>
<g fill="#2ca02c" fill-opacity="0.33"><circle cx="320.74" cy="250.3" r="1.4"/><circle cx="318.5" cy="325.4" r="1.4"/><circle cx="316.55" cy="214.9" r="1.4"/><circle cx="316.09" cy="215.5" r="1.4"/><circle cx="319.83" cy="216.1" r="1.4"/><circle cx="316.87" cy="216.7" r="1.4"/><circle cx="318.23" cy="240.7" r="1.4"/><circle cx="321.35" cy="278.24" r="1.4"/><circle cx="321.6" cy="276.62" r="1.4"/><circle cx="321.61" cy="274.39" r="1.4"/><circle cx="316.54" cy="261.2" r="1.4"/><circle cx="322.01" cy="267.79" r="1.4"/><circle cx="318.71" cy="268.89" r="1.4"/><circle cx="320.86" cy="274.16" r="1.4"/><circle cx="318.88" cy="267.28" r="1.4"/><circle cx="321.03" cy="275.64" r="1.4"/><circle cx="318.98" cy="280.83" r="1.4"/><circle cx="319.06" cy="258.44" r="1.4"/><circle cx="318.64" cy="275.08" r="1.4"/><circle cx="317.32" cy="278.15" r="1.4"/><circle cx="318.98" cy="266.54" r="1.4"/><circle cx="320.62" cy="270.07" r="1.4"/><circle cx="316.83" cy="281.27" r="1.4"/><circle cx="319.2" cy="281.98" r="1.4"/><circle cx="317.02" cy="289.66" r="1.4"/><circle cx="316.7" cy="283.84" r="1.4"/><circle cx="315.94" cy="293.28" r="1.4"/><circle cx="322.42" cy="295.7" r="1.4"/><circle cx="319.34" cy="289.29" r="1.4"/><circle cx="318.38" cy="282.94" r="1.4"/><circle cx="320.97" cy="290.13" r="1.4"/><circle cx="315.09" cy="289.62" r="1.4"/><circle cx="319.16" cy="292.3" r="1.4"/><circle cx="317.85" cy="289.19" r="1.4"/><circle cx="320.31" cy="291.12" r="1.4"/><circle cx="316.45" cy="294" r="1.4"/><circle cx="319.23" cy="289.33" r="1.4"/><circle cx="318.95" cy="287.64" r="1.4"/><circle cx="321.71" cy="295.81" r="1.4"/><circle cx="318.05" cy="298.68" r="1.4"/><circle cx="318.92" cy="303.38" r="1.4"/><circle cx="319.85" cy="300.49" r="1.4"/><circle cx="319.83" cy="304.15" r="1.4"/><circle cx="320.06" cy="297.81" r="1.4"/><circle cx="319.23" cy="306.35" r="1.4"/><circle cx="317.1" cy="300.12" r="1.4"/><circle cx="321.41" cy="297.16" r="1.4"/><circle cx="322.47" cy="299.32" r="1.4"/><circle cx="319.24" cy="300.56" r="1.4"/><circle cx="317.75" cy="296.73" r="1.4"/><circle cx="321.05" cy="300.74" r="1.4"/><circle cx="317.19" cy="300.76" r="1.4"/><circle cx="319.5" cy="303.51" r="1.4"/><circle cx="316.01" cy="300.09" r="1.4"/><circle cx="321.69" cy="299.23" r="1.4"/><circle cx="316.75" cy="307.78" r="1.4"/><circle cx="319.63" cy="317.53" r="1.4"/><circle cx="317.8" cy="323.41" r="1.4"/><circle cx="318.06" cy="312.47" r="1.4"/><circle cx="316.62" cy="307.73" r="1.4"/><circle cx="318.82" cy="319.19" r="1.4"/><circle cx="316.78" cy="310" r="1.4"/><circle cx="320.81" cy="307.66" r="1.4"/><circle cx="317.21" cy="306.98" r="1.4"/><circle cx="318.79" cy="318.49" r="1.4"/><circle cx="320.38" cy="319.42" r="1.4"/><circle cx="320.42" cy="314.83" r="1.4"/><circle cx="320.71" cy="311.34" r="1.4"/><circle cx="321.02" cy="313.2" r="1.4"/><circle cx="319.73" cy="307.8" r="1.4"/></g>
<g fill="#d62728" fill-opacity="0.33"><circle cx="344.2" cy="162.8" r="1.4"/><circle cx="338.88" cy="297.4" r="1.4"/><circle cx="341.02" cy="90.7" r="1.4"/><circle cx="341.35" cy="109.8" r="1.4"/><circle cx="340.98" cy="173.77" r="1.4"/><circle cx="340.93" cy="196.32" r="1.4"/><circle cx="340.65" cy="196.7" r="1.4"/><circle cx="341.42" cy="198.96" r="1.4"/><circle cx="343.83" cy="212.73" r="1.4"/><circle cx="346.02" cy="163.32" r="1.4"/><circle cx="339.86" cy="212.06" r="1.4"/><circle cx="344.03" cy="194.99" r="1.4"/><circle cx="344.16" cy="200.18" r="1.4"/><circle cx="343.89" cy="205.21" r="1.4"/><circle cx="346.5" cy="212.05" r="1.4"/><circle cx="343.93" cy="189.41" r="1.4"/><circle cx="345.64" cy="192.09" r="1.4"/><circle cx="341.64" cy="214.99" r="1.4"/><circle cx="340.61" cy="168.64" r="1.4"/><circle cx="345.87" cy="203.9" r="1.4"/><circle cx="343.72" cy="203.85" r="1.4"/><circle cx="340.64" cy="216.2" r="1.4"/><circle cx="343.05" cy="232.59" r="1.4"/><circle cx="344.83" cy="234.65" r="1.4"/><circle cx="341.59" cy="241.67" r="1.4"/><circle cx="343.96" cy="224.72" r="1.4"/><circle cx="340.54" cy="243.08" r="1.4"/><circle cx="344.35" cy="229.8" r="1.4"/><circle cx="343.75" cy="229.07" r="1.4"/><circle cx="342.87" cy="240.71" r="1.4"/><circle cx="342.62" cy="216.36" r="1.4"/><circle cx="342.9" cy="235.65" r="1.4"/><circle cx="345.81" cy="233.03" r="1.4"/><circle cx="345.62" cy="224.95" r="1.4"/><circle cx="339.15" cy="239.7" r="1.4"/><circle cx="341.1" cy="225.73" r="1.4"/><circle cx="342.82" cy="228.78" r="1.4"/><circle cx="343.25" cy="230.22" r="1.4"/><circle cx="341.11" cy="257.24" r="1.4"/><circle cx="344.88" cy="247.33" r="1.4"/><circle cx="347.64" cy="251.3" r="1.4"/><circle cx="340.99" cy="251.08" r="1.4"/><circle cx="341.1" cy="253.41" r="1.4"/><circle cx="343.46" cy="258.23" r="1.4"/><circle cx="345.44" cy="248.78" r="1.4"/><circle cx="344.86" cy="258.25" r="1.4"/><circle cx="343.41" cy="250.75" r="1.4"/><circle cx="344.25" cy="252.52" r="1.4"/><circle cx="343.33" cy="248.41" r="1.4"/><circle cx="343.16" cy="252.56" r="1.4"/><circle cx="342.73" cy="260.86" r="1.4"/><circle cx="342.21" cy="255.19" r="1.4"/><circle cx="343.98" cy="257.62" r="1.4"/><circle cx="342.96" cy="249.46" r="1.4"/><circle cx="343.86" cy="265.87" r="1.4"/><circle cx="342.37" cy="265.41" r="1.4"/><circle cx="346.31" cy="275.11" r="1.4"/><circle cx="343.49" cy="277.23" r="1.4"/><circle cx="343.3" cy="284.61" r="1.4"/><circle cx="346.39" cy="261.41" r="1.4"/><circle cx="343.38" cy="281.42" r="1.4"/><circle cx="343.73" cy="290.31" r="1.4"/><circle cx="343.61" cy="273.42" r="1.4"/><circle cx="340.01" cy="261.46" r="1.4"/><circle cx="345.13" cy="265.44" r="1.4"/><circle cx="340.59" cy="261.3" r="1.4"/><circle cx="345.57" cy="263.12" r="1.4"/><circle cx="344.56" cy="292.46" r="1.4"/><circle cx="342.58" cy="276.07" r="1.4"/><circle cx="340.99" cy="278.3" r="1.4"/></g>
<g fill="#9467bd" fill-opacity="0.33"><circle cx="369.54" cy="152" r="1.4"/><circle cx="368.65" cy="294.2" r="1.4"/><circle cx="367.74" cy="85.7" r="1.4"/><circle cx="366.07" cy="111.5" r="1.4"/><circle cx="367.36" cy="211.93" r="1.4"/><circle cx="362.85" cy="173.7" r="1.4"/><circle cx="367.63" cy="212.59" r="1.4"/><circle cx="370.07" cy="203.83" r="1.4"/><circle cx="366.37" cy="153.04" r="1.4"/><circle cx="365.34" cy="153.34" r="1.4"/><circle cx="367.77" cy="200.41" r="1.4"/><circle cx="368.83" cy="208.24" r="1.4"/><circle cx="367.38" cy="159.14" r="1.4"/><circle cx="363.81" cy="178.12" r="1.4"/><circle cx="366.52" cy="204.42" r="1.4"/><circle cx="367.57" cy="166.54" r="1.4"/><circle cx="368.55" cy="209.84" r="1.4"/><circle cx="364.13" cy="190.54" r="1.4"/><circle cx="367.63" cy="157.39" r="1.4"/><circle cx="369.97" cy="182.32" r="1.4"/><circle cx="370.67" cy="196.1" r="1.4"/><circle cx="364.84" cy="225.02" r="1.4"/><circle cx="365.1" cy="231.55" r="1.4"/><circle cx="367.04" cy="216.97" r="1.4"/><circle cx="366.26" cy="234.85" r="1.4"/><circle cx="366.66" cy="222.95" r="1.4"/><circle cx="367.8" cy="230.67" r="1.4"/><circle cx="368.53" cy="230.25" r="1.4"/><circle cx="366.78" cy="224.45" r="1.4"/><circle cx="365.54" cy="223.57" r="1.4"/><circle cx="365.49" cy="234.54" r="1.4"/><circle cx="366.55" cy="238.89" r="1.4"/><circle cx="366.22" cy="234.5" r="1.4"/><circle cx="367.23" cy="228.53" r="1.4"/><circle cx="371.85" cy="221.01" r="1.4"/><circle cx="369.24" cy="214.66" r="1.4"/><circle cx="366.69" cy="239.69" r="1.4"/><circle cx="368.03" cy="232.27" r="1.4"/><circle cx="364.99" cy="255.87" r="1.4"/><circle cx="364.75" cy="246.61" r="1.4"/><circle cx="368.85" cy="251.73" r="1.4"/><circle cx="369.59" cy="258.68" r="1.4"/><circle cx="365.99" cy="255.95" r="1.4"/><circle cx="369.36" cy="251.64" r="1.4"/><circle cx="367.87" cy="246.17" r="1.4"/><circle cx="367.42" cy="248.41" r="1.4"/><circle cx="371.36" cy="257.01" r="1.4"/><circle cx="367.11" cy="247.44" r="1.4"/><circle cx="364.77" cy="253.21" r="1.4"/><circle cx="367.57" cy="251.65" r="1.4"/><circle cx="367.1" cy="257.16" r="1.4"/><circle cx="370.82" cy="255.5" r="1.4"/><circle cx="363.03" cy="245.7" r="1.4"/><circle cx="369.52" cy="240.43" r="1.4"/><circle cx="367.75" cy="262.27" r="1.4"/><circle cx="363.68" cy="266.54" r="1.4"/><circle cx="368.84" cy="272.54" r="1.4"/><circle cx="367" cy="283.44" r="1.4"/><circle cx="368.65" cy="287.41" r="1.4"/><circle cx="367.67" cy="259.22" r="1.4"/><circle cx="367.7" cy="284.37" r="1.4"/><circle cx="368.11" cy="283.21" r="1.4"/><circle cx="369.78" cy="286.26" r="1.4"/><circle cx="368.16" cy="271.94" r="1.4"/><circle cx="368.87" cy="262.51" r="1.4"/><circle cx="365.74" cy="285.36" r="1.4"/><circle cx="371.5" cy="282.96" r="1.4"/><circle cx="365.92" cy="276.85" r="1.4"/><circle cx="369.84" cy="288.94" r="1.4"/><circle cx="368.41" cy="264.32" r="1.4"/></g>
<g fill="#8c564b" fill-opacity="0.33"><circle cx="390.51" cy="161.3" r="1.4"/><circle cx="391.2" cy="292" r="1.4"/><circle cx="392.65" cy="90.6" r="1.4"/><circle cx="390.42" cy="111.5" r="1.4"/><circle cx="390.58" cy="190.62" r="1.4"/><circle cx="392.18" cy="170.91" r="1.4"/><circle cx="391.06" cy="215.95" r="1.4"/><circle cx="395.36" cy="181.13" r="1.4"/><circle cx="390.95" cy="200.56" r="1.4"/><circle cx="392.61" cy="204.53" r="1.4"/><circle cx="389.82" cy="215.9" r="1.4"/><circle cx="391.66" cy="205.94" r="1.4"/><circle cx="392.37" cy="190.35" r="1.4"/><circle cx="391" cy="193.82" r="1.4"/><circle cx="392.24" cy="173.96" r="1.4"/><circle cx="391.47" cy="216.05" r="1.4"/><circle cx="393.91" cy="216.36" r="1.4"/><circle cx="389.75" cy="178.57" r="1.4"/><circle cx="392.12" cy="164.46" r="1.4"/><circle cx="393.78" cy="181.03" r="1.4"/><circle cx="391.22" cy="187.66" r="1.4"/><circle cx="393.07" cy="238.97" r="1.4"/><circle cx="392.14" cy="239.01" r="1.4"/><circle cx="393.38" cy="237.33" r="1.4"/><circle cx="396.07" cy="217.58" r="1.4"/><circle cx="391.17" cy="236.06" r="1.4"/><circle cx="392.37" cy="234.14" r="1.4"/><circle cx="391.15" cy="232.57" r="1.4"/><circle cx="390.52" cy="241.04" r="1.4"/><circle cx="395.69" cy="217.79" r="1.4"/><circle cx="394.58" cy="220.02" r="1.4"/><circle cx="392.7" cy="235.27" r="1.4"/><circle cx="390.07" cy="239.88" r="1.4"/><circle cx="396.07" cy="233.32" r="1.4"/><circle cx="395.18" cy="223.87" r="1.4"/><circle cx="391.93" cy="231.19" r="1.4"/><circle cx="390.97" cy="235.35" r="1.4"/><circle cx="392.49" cy="219.04" r="1.4"/><circle cx="395.34" cy="247.72" r="1.4"/><circle cx="391.61" cy="246.41" r="1.4"/><circle cx="390.3" cy="243.82" r="1.4"/><circle cx="391.35" cy="250.79" r="1.4"/><circle cx="387.52" cy="244.69" r="1.4"/><circle cx="393.31" cy="246.05" r="1.4"/><circle cx="392.08" cy="244.19" r="1.4"/><circle cx="394.12" cy="254.61" r="1.4"/><circle cx="392.38" cy="241.65" r="1.4"/><circle cx="392.53" cy="255.39" r="1.4"/><circle cx="391.97" cy="245.2" r="1.4"/><circle cx="388.44" cy="242.1" r="1.4"/><circle cx="391.83" cy="259.49" r="1.4"/><circle cx="392.33" cy="245.7" r="1.4"/><circle cx="393.9" cy="259.61" r="1.4"/><circle cx="393" cy="258.3" r="1.4"/><circle cx="389.97" cy="286.05" r="1.4"/><circle cx="391.61" cy="261.8" r="1.4"/><circle cx="392.32" cy="268.21" r="1.4"/><circle cx="394.21" cy="261.37" r="1.4"/><circle cx="390.61" cy="288.13" r="1.4"/><circle cx="388.04" cy="283.73" r="1.4"/><circle cx="390.4" cy="274.38" r="1.4"/><circle cx="390.9" cy="268.36" r="1.4"/><circle cx="394.54" cy="265.36" r="1.4"/><circle cx="392.87" cy="282.8" r="1.4"/><circle cx="388.89" cy="269.12" r="1.4"/><circle cx="393.31" cy="274.37" r="1.4"/><circle cx="395" cy="261.84" r="1.4"/><circle cx="392.81" cy="262.97" r="1.4"/><circle cx="389.61" cy="261.08" r="1.4"/><circle cx="394.87" cy="277.85" r="1.4"/></g>
<g fill="#e377c2" fill-opacity="0.33"><circle cx="417.61" cy="137.8" r="1.4"/><circle cx="415.02" cy="298.4" r="1.4"/><circle cx="412.42" cy="69.5" r="1.4"/><circle cx="417.61" cy="104.6" r="1.4"/><circle cx="413.8" cy="205.73" r="1.4"/><circle cx="415.46" cy="183.49" r="1.4"/><circle cx="419.01" cy="139.45" r="1.4"/><circle cx="414.53" cy="207.38" r="1.4"/><circle cx="415" cy="182.23" r="1.4"/><circle cx="417.04" cy="206.03" r="1.4"/><circle cx="414.69" cy="164.36" r="1.4"/><circle cx="417.62" cy="156.79" r="1.4"/><circle cx="419.37" cy="204.36" r="1.4"/><circle cx="415.35" cy="173.3" r="1.4"/><circle cx="418.92" cy="154.6" r="1.4"/><circle cx="413.86" cy="173.65" r="1.4"/><circle cx="416.16" cy="190.86" r="1.4"/><circle cx="415.24" cy="138.3" r="1.4"/><circle cx="411.28" cy="185.51" r="1.4"/><circle cx="415.23" cy="179.8" r="1.4"/><circle cx="417.17" cy="185.2" r="1.4"/><circle cx="415.17" cy="213.21" r="1.4"/><circle cx="413.28" cy="232.45" r="1.4"/><circle cx="417.11" cy="235.76" r="1.4"/><circle cx="414.16" cy="237.34" r="1.4"/><circle cx="417.63" cy="219.7" r="1.4"/><circle cx="417.71" cy="232.34" r="1.4"/><circle cx="416.68" cy="221.66" r="1.4"/><circle cx="415.37" cy="233.64" r="1.4"/><circle cx="415.77" cy="211.28" r="1.4"/><circle cx="419.17" cy="237.58" r="1.4"/><circle cx="419.84" cy="240.21" r="1.4"/><circle cx="416.56" cy="225.33" r="1.4"/><circle cx="411.28" cy="225.93" r="1.4"/><circle cx="413.34" cy="226.49" r="1.4"/><circle cx="413.08" cy="226.71" r="1.4"/><circle cx="418.89" cy="209.97" r="1.4"/><circle cx="413.02" cy="240.64" r="1.4"/><circle cx="418.58" cy="244.97" r="1.4"/><circle cx="416.39" cy="244.36" r="1.4"/><circle cx="415.48" cy="243.2" r="1.4"/><circle cx="418.78" cy="245.36" r="1.4"/><circle cx="415.41" cy="253.63" r="1.4"/><circle cx="418.25" cy="242.14" r="1.4"/><circle cx="418.26" cy="243.11" r="1.4"/><circle cx="414.5" cy="251.9" r="1.4"/><circle cx="415.77" cy="244.55" r="1.4"/><circle cx="418.2" cy="241.96" r="1.4"/><circle cx="411.29" cy="250.45" r="1.4"/><circle cx="417.77" cy="250.12" r="1.4"/><circle cx="415.38" cy="249.33" r="1.4"/><circle cx="417.44" cy="251.96" r="1.4"/><circle cx="415.17" cy="243.2" r="1.4"/><circle cx="414.97" cy="254.4" r="1.4"/><circle cx="411.63" cy="279.44" r="1.4"/><circle cx="412.99" cy="256.46" r="1.4"/><circle cx="414.2" cy="257.27" r="1.4"/><circle cx="415.64" cy="268.11" r="1.4"/><circle cx="413.36" cy="268.42" r="1.4"/><circle cx="416.3" cy="260.55" r="1.4"/><circle cx="416.39" cy="257.25" r="1.4"/><circle cx="416.61" cy="264.6" r="1.4"/><circle cx="416.91" cy="257.48" r="1.4"/><circle cx="417" cy="272.68" r="1.4"/><circle cx="414.41" cy="288.46" r="1.4"/><circle cx="416.69" cy="257.64" r="1.4"/><circle cx="415.81" cy="271.74" r="1.4"/><circle cx="416.64" cy="281.18" r="1.4"/><circle cx="412.11" cy="257.93" r="1.4"/><circle cx="414.68" cy="286.14" r="1.4"/></g>
<g fill="#7f7f7f" fill-opacity="0.33"><circle cx="437.88" cy="176.2" r="1.4"/><circle cx="440.65" cy="303" r="1.4"/><circle cx="439.71" cy="15.7" r="1.4"/><circle cx="438.35" cy="112.7" r="1.4"/><circle cx="438.02" cy="130.2" r="1.4"/><circle cx="441.61" cy="213.49" r="1.4"/><circle cx="438.67" cy="211.61" r="1.4"/><circle cx="441.16" cy="215.31" r="1.4"/><circle cx="440.89" cy="190.3" r="1.4"/><circle cx="436.21" cy="217.82" r="1.4"/><circle cx="437.83" cy="205.98" r="1.4"/><circle cx="440" cy="210.52" r="1.4"/><circle cx="440.68" cy="213.62" r="1.4"/><circle cx="441.55" cy="206.42" r="1.4"/><circle cx="441.6" cy="197.27" r="1.4"/><circle cx="442.06" cy="192.98" r="1.4"/><circle cx="439.25" cy="191.64" r="1.4"/><circle cx="439.57" cy="208.72" r="1.4"/><circle cx="441.54" cy="201.62" r="1.4"/><circle cx="439.14" cy="212.35" r="1.4"/><circle cx="442.11" cy="177.08" r="1.4"/><circle cx="436.81" cy="199.82" r="1.4"/><circle cx="441.3" cy="250.32" r="1.4"/><circle cx="439.65" cy="232.37" r="1.4"/><circle cx="436.06" cy="241.53" r="1.4"/><circle cx="441.95" cy="239.65" r="1.4"/><circle cx="440.62" cy="233.7" r="1.4"/><circle cx="440.03" cy="253.94" r="1.4"/><circle cx="437.84" cy="234.01" r="1.4"/><circle cx="439.06" cy="247.74" r="1.4"/><circle cx="443.02" cy="230.07" r="1.4"/><circle cx="438.34" cy="227.42" r="1.4"/><circle cx="435.49" cy="250.59" r="1.4"/><circle cx="438.28" cy="238.17" r="1.4"/><circle cx="437.59" cy="227.29" r="1.4"/><circle cx="439.73" cy="236.67" r="1.4"/><circle cx="439.21" cy="238.17" r="1.4"/><circle cx="438.17" cy="246.68" r="1.4"/><circle cx="438.31" cy="255.82" r="1.4"/><circle cx="442.09" cy="257.43" r="1.4"/><circle cx="437.11" cy="267.63" r="1.4"/><circle cx="443.91" cy="264.57" r="1.4"/><circle cx="438.91" cy="256.45" r="1.4"/><circle cx="437.81" cy="258.98" r="1.4"/><circle cx="441.57" cy="259.2" r="1.4"/><circle cx="441.12" cy="263.69" r="1.4"/><circle cx="437.91" cy="262.87" r="1.4"/><circle cx="441.49" cy="266.11" r="1.4"/><circle cx="436.31" cy="265.71" r="1.4"/><circle cx="438.15" cy="261.5" r="1.4"/><circle cx="442.25" cy="264.57" r="1.4"/><circle cx="439.48" cy="264.63" r="1.4"/><circle cx="437.39" cy="264.86" r="1.4"/><circle cx="441.02" cy="260.91" r="1.4"/><circle cx="441.83" cy="290.71" r="1.4"/><circle cx="439.95" cy="286.92" r="1.4"/><circle cx="436.38" cy="297.84" r="1.4"/><circle cx="439.3" cy="269.05" r="1.4"/><circle cx="440.83" cy="295.33" r="1.4"/><circle cx="441.53" cy="268.2" r="1.4"/><circle cx="443.7" cy="289.72" r="1.4"/><circle cx="439.49" cy="281.49" r="1.4"/><circle cx="439.03" cy="278.12" r="1.4"/><circle cx="439.92" cy="300.7" r="1.4"/><circle cx="442.41" cy="280.93" r="1.4"/><circle cx="438.11" cy="275.44" r="1.4"/><circle cx="442.6" cy="290.64" r="1.4"/><circle cx="435.49" cy="295.44" r="1.4"/><circle cx="441.59" cy="282.38" r="1.4"/><circle cx="438.64" cy="274.29" r="1.4"/></g>
<rect x="258.39" y="0.5" width="193.71" height="340.75" fill="none" stroke="#3a3a3a" stroke-width="0.8"/>
<path d="M255.99 334.5H258.39M255.99 278.07H258.39M255.99 221.65H258.39M255.99 165.22H258.39M255.99 108.8H258.39M255.99 52.38H258.39M270.5 341.25V343.65M294.71 341.25V343.65M318.92 341.25V343.65M343.14 341.25V343.65M367.35 341.25V343.65M391.57 341.25V343.65M415.78 341.25V343.65M439.99 341.25V343.65" stroke="#3a3a3a" stroke-width="0.8" fill="none"/>
<text x="254.09" y="337.1" font-size="7.3" text-anchor="end">0</text>
<text x="254.09" y="280.68" font-size="7.3" text-anchor="end">50</text>
<text x="254.09" y="224.25" font-size="7.3" text-anchor="end">100</text>
<text x="254.09" y="167.82" font-size="7.3" text-anchor="end">150</text>
<text x="254.09" y="111.4" font-size="7.3" text-anchor="end">200</text>
<text x="254.09" y="54.98" font-size="7.3" text-anchor="end">250</text>
<text transform="translate(238.09 170.4) rotate(-90)" font-size="7.24" text-anchor="middle" textLength="101.1" lengthAdjust="spacingAndGlyphs">Waking After Sleep Onset (min)</text>
<text transform="translate(275.9 348) rotate(-60)" font-size="7.6" text-anchor="end" textLength="14" lengthAdjust="spacingAndGlyphs">SVM</text>
<text transform="translate(305.16 348) rotate(-60)" font-size="7.6" text-anchor="end" textLength="34.2" lengthAdjust="spacingAndGlyphs">Rnd. Forest</text>
<text transform="translate(330.65 348) rotate(-60)" font-size="7.6" text-anchor="end" textLength="39.3" lengthAdjust="spacingAndGlyphs">Naive Bayes</text>
<text transform="translate(352.69 348) rotate(-60)" font-size="7.6" text-anchor="end" textLength="30.6" lengthAdjust="spacingAndGlyphs">AdaBoost</text>
<text transform="translate(380.88 348) rotate(-60)" font-size="7.6" text-anchor="end" textLength="46.5" lengthAdjust="spacingAndGlyphs">GradientBoost</text>
<text transform="translate(402.17 348) rotate(-60)" font-size="7.6" text-anchor="end" textLength="34.8" lengthAdjust="spacingAndGlyphs">Perceptron</text>
<text transform="translate(425.83 348) rotate(-60)" font-size="7.6" text-anchor="end" textLength="32.6" lengthAdjust="spacingAndGlyphs">lightCNNA</text>
<text transform="translate(445.04 348) rotate(-60)" font-size="7.6" text-anchor="end" textLength="12.6" lengthAdjust="spacingAndGlyphs">PSG</text>
<path d="M496.94 51.5H509.06V80.3H496.94ZM503 51.5V32.9M503 80.3V112.2M499.97 32.9H506.03M499.97 112.2H506.03M521.18 68.7H533.29V102.7H521.18ZM527.23 68.7V41.2M527.23 102.7V143.4M524.2 41.2H530.26M524.2 143.4H530.26M545.41 30.4H557.53V51.5H545.41ZM551.47 30.4V16M551.47 51.5V79M548.44 16H554.5M548.44 79H554.5M569.65 66.3H581.77V101.4H569.65ZM575.71 66.3V40M575.71 101.4V145.1M572.68 40H578.74M572.68 145.1H578.74M593.88 69.5H606V102.9H593.88ZM599.94 69.5V43.4M599.94 102.9V144.2M596.91 43.4H602.97M596.91 144.2H602.97M618.12 68.5H630.24V101.2H618.12ZM624.18 68.5V45.2M624.18 101.2V141.2M621.15 45.2H627.21M621.15 141.2H627.21M642.36 70.4H654.47V99H642.36ZM648.42 70.4V44.4M648.42 99V129.2M645.39 44.4H651.45M645.39 129.2H651.45M666.59 61.4H678.71V88.9H666.59ZM672.65 61.4V34.4M672.65 88.9V127.2M669.62 34.4H675.68M669.62 127.2H675.68" stroke="#000" stroke-width="0.8" fill="none"/>
<path d="M496.94 65H509.06M521.18 84.2H533.29M545.41 38.8H557.53M569.65 80.3H581.77M593.88 84.4H606M618.12 84.7H630.24M642.36 81.7H654.47M666.59 71.9H678.71" stroke="#ff7f0e" stroke-width="0.65" fill="none"/>
<g fill="none" stroke="#1a1a1a" stroke-width="0.75"><circle cx="503" cy="191" r="2.05"/><circle cx="527.23" cy="257.6" r="2.05"/><circle cx="551.47" cy="93.7" r="2.05"/><circle cx="551.47" cy="127.2" r="2.05"/><circle cx="575.71" cy="251" r="2.05"/><circle cx="599.94" cy="255.9" r="2.05"/><circle cx="624.18" cy="251" r="2.05"/><circle cx="648.42" cy="148" r="2.05"/><circle cx="648.42" cy="149.5" r="2.05"/><circle cx="648.42" cy="151" r="2.05"/><circle cx="648.42" cy="152.5" r="2.05"/><circle cx="648.42" cy="166.3" r="2.05"/><circle cx="648.42" cy="169.5" r="2.05"/><circle cx="648.42" cy="236.8" r="2.05"/><circle cx="672.65" cy="132" r="2.05"/><circle cx="672.65" cy="134.4" r="2.05"/><circle cx="672.65" cy="168.9" r="2.05"/><circle cx="672.65" cy="325.6" r="2.05"/></g>
<g fill="#1f77b4" fill-opacity="0.33"><circle cx="502.1" cy="32.9" r="1.4"/><circle cx="505.56" cy="112.2" r="1.4"/><circle cx="505.26" cy="191" r="1.4"/><circle cx="502.42" cy="37.09" r="1.4"/><circle cx="504.42" cy="40.37" r="1.4"/><circle cx="502.53" cy="45.15" r="1.4"/><circle cx="500.55" cy="45.02" r="1.4"/><circle cx="505.03" cy="37.89" r="1.4"/><circle cx="503.31" cy="37.75" r="1.4"/><circle cx="504.69" cy="47.32" r="1.4"/><circle cx="504.63" cy="46.85" r="1.4"/><circle cx="501.37" cy="41.82" r="1.4"/><circle cx="503.39" cy="51.49" r="1.4"/><circle cx="501.56" cy="47.42" r="1.4"/><circle cx="503.87" cy="34.07" r="1.4"/><circle cx="504.67" cy="43.1" r="1.4"/><circle cx="505.07" cy="49.68" r="1.4"/><circle cx="507.5" cy="40.76" r="1.4"/><circle cx="502.35" cy="48.3" r="1.4"/><circle cx="505.48" cy="33.01" r="1.4"/><circle cx="504.85" cy="55.61" r="1.4"/><circle cx="504.63" cy="62.87" r="1.4"/><circle cx="501.47" cy="59.41" r="1.4"/><circle cx="504.34" cy="60.52" r="1.4"/><circle cx="503.94" cy="54.15" r="1.4"/><circle cx="503.41" cy="58.22" r="1.4"/><circle cx="503.85" cy="58.97" r="1.4"/><circle cx="501.34" cy="55.09" r="1.4"/><circle cx="503.04" cy="60.23" r="1.4"/><circle cx="504.3" cy="58.68" r="1.4"/><circle cx="502.69" cy="64.96" r="1.4"/><circle cx="504.44" cy="59.26" r="1.4"/><circle cx="505.88" cy="57.05" r="1.4"/><circle cx="503.64" cy="53.14" r="1.4"/><circle cx="502.37" cy="53.62" r="1.4"/><circle cx="503.98" cy="61.75" r="1.4"/><circle cx="502.76" cy="52.94" r="1.4"/><circle cx="502.15" cy="66.53" r="1.4"/><circle cx="502.53" cy="67.61" r="1.4"/><circle cx="506.77" cy="72.99" r="1.4"/><circle cx="504.5" cy="77.59" r="1.4"/><circle cx="504.56" cy="74.38" r="1.4"/><circle cx="504.86" cy="77.34" r="1.4"/><circle cx="499.9" cy="65.95" r="1.4"/><circle cx="504.01" cy="65.19" r="1.4"/><circle cx="504.57" cy="76.79" r="1.4"/><circle cx="502.66" cy="69.94" r="1.4"/><circle cx="501.08" cy="75.95" r="1.4"/><circle cx="504.32" cy="70.41" r="1.4"/><circle cx="502.65" cy="67.59" r="1.4"/><circle cx="505.26" cy="69.08" r="1.4"/><circle cx="502.28" cy="66.52" r="1.4"/><circle cx="503.31" cy="78.83" r="1.4"/><circle cx="505.17" cy="73.91" r="1.4"/><circle cx="505.13" cy="85.09" r="1.4"/><circle cx="505.29" cy="87.87" r="1.4"/><circle cx="502.71" cy="86.04" r="1.4"/><circle cx="507.28" cy="80.47" r="1.4"/><circle cx="501.36" cy="106.19" r="1.4"/><circle cx="502" cy="92.37" r="1.4"/><circle cx="503.06" cy="109.92" r="1.4"/><circle cx="505.74" cy="87.57" r="1.4"/><circle cx="503.94" cy="93.8" r="1.4"/><circle cx="506.94" cy="82.92" r="1.4"/><circle cx="504.72" cy="80.42" r="1.4"/><circle cx="504.67" cy="108.34" r="1.4"/><circle cx="501.47" cy="104.35" r="1.4"/><circle cx="502.58" cy="84.28" r="1.4"/><circle cx="503.27" cy="106.63" r="1.4"/><circle cx="501.05" cy="102.42" r="1.4"/></g>
<g fill="#ff7f0e" fill-opacity="0.33"><circle cx="528.67" cy="41.2" r="1.4"/><circle cx="527.67" cy="143.4" r="1.4"/><circle cx="529.95" cy="257.6" r="1.4"/><circle cx="529.51" cy="63.19" r="1.4"/><circle cx="528.33" cy="60.88" r="1.4"/><circle cx="531.53" cy="52.97" r="1.4"/><circle cx="527.23" cy="55.6" r="1.4"/><circle cx="526.39" cy="44.67" r="1.4"/><circle cx="526.55" cy="48.17" r="1.4"/><circle cx="525.35" cy="67.12" r="1.4"/><circle cx="527.18" cy="53.31" r="1.4"/><circle cx="523.48" cy="63.31" r="1.4"/><circle cx="527.07" cy="45.57" r="1.4"/><circle cx="528.09" cy="60.73" r="1.4"/><circle cx="529.22" cy="54.67" r="1.4"/><circle cx="526.54" cy="58.99" r="1.4"/><circle cx="530.01" cy="52.49" r="1.4"/><circle cx="525.93" cy="43.87" r="1.4"/><circle cx="526.97" cy="52.98" r="1.4"/><circle cx="523.48" cy="49.99" r="1.4"/><circle cx="525.71" cy="70.66" r="1.4"/><circle cx="525.65" cy="79.81" r="1.4"/><circle cx="530.15" cy="73.08" r="1.4"/><circle cx="528.27" cy="74.95" r="1.4"/><circle cx="525.08" cy="82.79" r="1.4"/><circle cx="528.28" cy="80.71" r="1.4"/><circle cx="528.17" cy="82.38" r="1.4"/><circle cx="526.78" cy="82.05" r="1.4"/><circle cx="527.28" cy="70.75" r="1.4"/><circle cx="526.64" cy="72.99" r="1.4"/><circle cx="526.18" cy="69.16" r="1.4"/><circle cx="523.77" cy="79.23" r="1.4"/><circle cx="527.06" cy="78.99" r="1.4"/><circle cx="529.74" cy="74.15" r="1.4"/><circle cx="530.03" cy="75.09" r="1.4"/><circle cx="526.69" cy="78.92" r="1.4"/><circle cx="525.78" cy="79.54" r="1.4"/><circle cx="526.82" cy="88.8" r="1.4"/><circle cx="528.99" cy="99.86" r="1.4"/><circle cx="527.92" cy="90.71" r="1.4"/><circle cx="526.09" cy="95.83" r="1.4"/><circle cx="527.94" cy="87.56" r="1.4"/><circle cx="526.83" cy="86.33" r="1.4"/><circle cx="528.24" cy="101.08" r="1.4"/><circle cx="526.44" cy="97.78" r="1.4"/><circle cx="524.36" cy="97.38" r="1.4"/><circle cx="527.35" cy="84.95" r="1.4"/><circle cx="528.72" cy="84.94" r="1.4"/><circle cx="525.07" cy="87.2" r="1.4"/><circle cx="527.02" cy="87.86" r="1.4"/><circle cx="528.95" cy="89.81" r="1.4"/><circle cx="526.5" cy="91.24" r="1.4"/><circle cx="525.97" cy="84.93" r="1.4"/><circle cx="531.19" cy="89.95" r="1.4"/><circle cx="528.85" cy="120.84" r="1.4"/><circle cx="529.24" cy="104.55" r="1.4"/><circle cx="525.39" cy="132.4" r="1.4"/><circle cx="530.42" cy="117.5" r="1.4"/><circle cx="524.01" cy="125.04" r="1.4"/><circle cx="526.22" cy="106.17" r="1.4"/><circle cx="528.68" cy="111.79" r="1.4"/><circle cx="529.82" cy="123.26" r="1.4"/><circle cx="525.42" cy="108.82" r="1.4"/><circle cx="525.94" cy="102.7" r="1.4"/><circle cx="527.62" cy="132.07" r="1.4"/><circle cx="523.48" cy="128.51" r="1.4"/><circle cx="528.48" cy="106.99" r="1.4"/><circle cx="528.32" cy="102.84" r="1.4"/><circle cx="526.36" cy="133.34" r="1.4"/><circle cx="528.28" cy="119.29" r="1.4"/></g>
<g fill="#2ca02c" fill-opacity="0.33"><circle cx="551.02" cy="16" r="1.4"/><circle cx="550.36" cy="79" r="1.4"/><circle cx="546.97" cy="93.7" r="1.4"/><circle cx="553.32" cy="127.2" r="1.4"/><circle cx="551.95" cy="17.28" r="1.4"/><circle cx="551.78" cy="21.62" r="1.4"/><circle cx="550.26" cy="20.04" r="1.4"/><circle cx="551.95" cy="28.05" r="1.4"/><circle cx="551.45" cy="24.49" r="1.4"/><circle cx="551.32" cy="18.37" r="1.4"/><circle cx="553.6" cy="22.4" r="1.4"/><circle cx="548.16" cy="24.82" r="1.4"/><circle cx="551.95" cy="23.08" r="1.4"/><circle cx="549.42" cy="19.47" r="1.4"/><circle cx="550.86" cy="17.52" r="1.4"/><circle cx="554.35" cy="16.23" r="1.4"/><circle cx="549.39" cy="30.39" r="1.4"/><circle cx="551.28" cy="28.6" r="1.4"/><circle cx="550.33" cy="17.78" r="1.4"/><circle cx="553.29" cy="28.23" r="1.4"/><circle cx="549.59" cy="30.36" r="1.4"/><circle cx="548.24" cy="35.13" r="1.4"/><circle cx="552.46" cy="31.31" r="1.4"/><circle cx="550.79" cy="34.51" r="1.4"/><circle cx="550.86" cy="34.05" r="1.4"/><circle cx="553.55" cy="31.99" r="1.4"/><circle cx="549.77" cy="34.96" r="1.4"/><circle cx="550.75" cy="30.47" r="1.4"/><circle cx="551.75" cy="38.12" r="1.4"/><circle cx="552.26" cy="35.81" r="1.4"/><circle cx="550.48" cy="35.67" r="1.4"/><circle cx="553.46" cy="38.26" r="1.4"/><circle cx="555.78" cy="35.88" r="1.4"/><circle cx="550.69" cy="32.51" r="1.4"/><circle cx="555.06" cy="32.47" r="1.4"/><circle cx="547.42" cy="31.56" r="1.4"/><circle cx="554.17" cy="30.63" r="1.4"/><circle cx="550.81" cy="36.91" r="1.4"/><circle cx="551.73" cy="49.46" r="1.4"/><circle cx="550.82" cy="42.56" r="1.4"/><circle cx="550.25" cy="41.16" r="1.4"/><circle cx="549.02" cy="46.9" r="1.4"/><circle cx="550.71" cy="49.54" r="1.4"/><circle cx="553.96" cy="50.57" r="1.4"/><circle cx="553.66" cy="40.94" r="1.4"/><circle cx="550.8" cy="48.76" r="1.4"/><circle cx="550.46" cy="49.35" r="1.4"/><circle cx="550.12" cy="48.23" r="1.4"/><circle cx="549.17" cy="42.95" r="1.4"/><circle cx="554.93" cy="41.14" r="1.4"/><circle cx="552.74" cy="49.28" r="1.4"/><circle cx="551.7" cy="42.87" r="1.4"/><circle cx="550.53" cy="43.48" r="1.4"/><circle cx="549.51" cy="45.8" r="1.4"/><circle cx="554" cy="56.08" r="1.4"/><circle cx="552.97" cy="71.22" r="1.4"/><circle cx="549.64" cy="53.6" r="1.4"/><circle cx="553.37" cy="51.59" r="1.4"/><circle cx="549.34" cy="61.4" r="1.4"/><circle cx="552.7" cy="63.41" r="1.4"/><circle cx="549.63" cy="70.73" r="1.4"/><circle cx="550.67" cy="66.18" r="1.4"/><circle cx="552.42" cy="74.49" r="1.4"/><circle cx="552.3" cy="76.33" r="1.4"/><circle cx="553.41" cy="59.24" r="1.4"/><circle cx="549.86" cy="59.38" r="1.4"/><circle cx="554.5" cy="52.49" r="1.4"/><circle cx="554.05" cy="54.64" r="1.4"/><circle cx="551.45" cy="61.85" r="1.4"/><circle cx="552.36" cy="51.79" r="1.4"/></g>
<g fill="#d62728" fill-opacity="0.33"><circle cx="574.85" cy="40" r="1.4"/><circle cx="575.23" cy="145.1" r="1.4"/><circle cx="576.67" cy="251" r="1.4"/><circle cx="575.83" cy="57.85" r="1.4"/><circle cx="576.11" cy="49.27" r="1.4"/><circle cx="574.49" cy="56.7" r="1.4"/><circle cx="574.15" cy="58.47" r="1.4"/><circle cx="575.15" cy="48.41" r="1.4"/><circle cx="574.95" cy="58.95" r="1.4"/><circle cx="573.9" cy="44.33" r="1.4"/><circle cx="578.22" cy="57.37" r="1.4"/><circle cx="578.92" cy="59.36" r="1.4"/><circle cx="572.74" cy="43.1" r="1.4"/><circle cx="574.98" cy="54.32" r="1.4"/><circle cx="577.45" cy="42.84" r="1.4"/><circle cx="571.21" cy="55.26" r="1.4"/><circle cx="577.53" cy="64.97" r="1.4"/><circle cx="575.87" cy="58.38" r="1.4"/><circle cx="577.08" cy="62.29" r="1.4"/><circle cx="577.62" cy="63.15" r="1.4"/><circle cx="578.21" cy="67.9" r="1.4"/><circle cx="573.14" cy="80.17" r="1.4"/><circle cx="576.94" cy="76.4" r="1.4"/><circle cx="575.99" cy="67.73" r="1.4"/><circle cx="576.96" cy="77.92" r="1.4"/><circle cx="572.96" cy="71.79" r="1.4"/><circle cx="573.93" cy="68.7" r="1.4"/><circle cx="577.13" cy="79.74" r="1.4"/><circle cx="577.81" cy="74.18" r="1.4"/><circle cx="578.95" cy="77.15" r="1.4"/><circle cx="572.52" cy="68.22" r="1.4"/><circle cx="578.23" cy="77.17" r="1.4"/><circle cx="575.1" cy="67.11" r="1.4"/><circle cx="575.2" cy="69.62" r="1.4"/><circle cx="575.04" cy="71.51" r="1.4"/><circle cx="576.93" cy="66.51" r="1.4"/><circle cx="577.8" cy="74.62" r="1.4"/><circle cx="574.06" cy="84.8" r="1.4"/><circle cx="576.88" cy="86.63" r="1.4"/><circle cx="576.04" cy="95.23" r="1.4"/><circle cx="574.26" cy="89.29" r="1.4"/><circle cx="577.43" cy="99.05" r="1.4"/><circle cx="573.95" cy="93.41" r="1.4"/><circle cx="574.78" cy="98.7" r="1.4"/><circle cx="575.57" cy="92.18" r="1.4"/><circle cx="575.88" cy="99.66" r="1.4"/><circle cx="574.12" cy="98.67" r="1.4"/><circle cx="574.85" cy="83.84" r="1.4"/><circle cx="577.91" cy="96.03" r="1.4"/><circle cx="575.99" cy="87.5" r="1.4"/><circle cx="576.31" cy="96.41" r="1.4"/><circle cx="575.65" cy="94.66" r="1.4"/><circle cx="577.52" cy="97.72" r="1.4"/><circle cx="578.07" cy="82.89" r="1.4"/><circle cx="575.48" cy="108.81" r="1.4"/><circle cx="577.29" cy="126.65" r="1.4"/><circle cx="574.15" cy="141.1" r="1.4"/><circle cx="575.71" cy="125.7" r="1.4"/><circle cx="573.48" cy="101.55" r="1.4"/><circle cx="574.68" cy="119.02" r="1.4"/><circle cx="580.21" cy="102.09" r="1.4"/><circle cx="574.04" cy="116.24" r="1.4"/><circle cx="578.21" cy="130.84" r="1.4"/><circle cx="576.25" cy="102.26" r="1.4"/><circle cx="576.24" cy="139.4" r="1.4"/><circle cx="571.68" cy="122.95" r="1.4"/><circle cx="576.14" cy="105.12" r="1.4"/><circle cx="572.91" cy="103.67" r="1.4"/><circle cx="574.45" cy="111.65" r="1.4"/><circle cx="574.29" cy="133.2" r="1.4"/></g>
<g fill="#9467bd" fill-opacity="0.33"><circle cx="601.43" cy="43.4" r="1.4"/><circle cx="596.14" cy="144.2" r="1.4"/><circle cx="599.36" cy="255.9" r="1.4"/><circle cx="600.85" cy="53.61" r="1.4"/><circle cx="600.88" cy="67.08" r="1.4"/><circle cx="602.24" cy="68.32" r="1.4"/><circle cx="601.97" cy="69.1" r="1.4"/><circle cx="597.93" cy="64.8" r="1.4"/><circle cx="601.17" cy="54.34" r="1.4"/><circle cx="599.3" cy="66.49" r="1.4"/><circle cx="598.4" cy="66.03" r="1.4"/><circle cx="602.89" cy="60.52" r="1.4"/><circle cx="598.73" cy="63.75" r="1.4"/><circle cx="598.3" cy="55.84" r="1.4"/><circle cx="599.16" cy="61.64" r="1.4"/><circle cx="598.31" cy="57.55" r="1.4"/><circle cx="601.88" cy="45.73" r="1.4"/><circle cx="600.67" cy="55.42" r="1.4"/><circle cx="602.64" cy="54.97" r="1.4"/><circle cx="600.73" cy="69.47" r="1.4"/><circle cx="598.76" cy="76.67" r="1.4"/><circle cx="601.96" cy="74.97" r="1.4"/><circle cx="598.68" cy="73.13" r="1.4"/><circle cx="599.05" cy="73" r="1.4"/><circle cx="599.62" cy="74.7" r="1.4"/><circle cx="600.02" cy="71.52" r="1.4"/><circle cx="602.24" cy="69.61" r="1.4"/><circle cx="598.78" cy="82.48" r="1.4"/><circle cx="600.62" cy="76.25" r="1.4"/><circle cx="599.89" cy="76.14" r="1.4"/><circle cx="597.52" cy="77.97" r="1.4"/><circle cx="597.84" cy="74.01" r="1.4"/><circle cx="599.52" cy="72.02" r="1.4"/><circle cx="600.72" cy="70.49" r="1.4"/><circle cx="600.56" cy="73.99" r="1.4"/><circle cx="600.87" cy="74.1" r="1.4"/><circle cx="600.04" cy="80.33" r="1.4"/><circle cx="599.08" cy="94.6" r="1.4"/><circle cx="600.76" cy="101.74" r="1.4"/><circle cx="598.01" cy="90.7" r="1.4"/><circle cx="597.36" cy="101.44" r="1.4"/><circle cx="599.3" cy="95.19" r="1.4"/><circle cx="597.19" cy="85.88" r="1.4"/><circle cx="598.95" cy="87.71" r="1.4"/><circle cx="598.5" cy="95.14" r="1.4"/><circle cx="598.88" cy="102.67" r="1.4"/><circle cx="599.86" cy="91" r="1.4"/><circle cx="598.4" cy="98.73" r="1.4"/><circle cx="599.13" cy="92.32" r="1.4"/><circle cx="596.65" cy="100.46" r="1.4"/><circle cx="600.22" cy="85.65" r="1.4"/><circle cx="598.25" cy="93.36" r="1.4"/><circle cx="600.72" cy="101.03" r="1.4"/><circle cx="595.44" cy="89.5" r="1.4"/><circle cx="598.4" cy="106.49" r="1.4"/><circle cx="600.41" cy="102.95" r="1.4"/><circle cx="595.44" cy="104.5" r="1.4"/><circle cx="599.25" cy="106.76" r="1.4"/><circle cx="600.13" cy="124.88" r="1.4"/><circle cx="600.14" cy="105.57" r="1.4"/><circle cx="597.06" cy="110.82" r="1.4"/><circle cx="600.39" cy="105.19" r="1.4"/><circle cx="600.23" cy="119.51" r="1.4"/><circle cx="598.07" cy="134.65" r="1.4"/><circle cx="601.38" cy="121.82" r="1.4"/><circle cx="599.85" cy="105.11" r="1.4"/><circle cx="599.98" cy="126.56" r="1.4"/><circle cx="599.08" cy="141.5" r="1.4"/><circle cx="601" cy="119.42" r="1.4"/><circle cx="600.13" cy="103.33" r="1.4"/></g>
<g fill="#8c564b" fill-opacity="0.33"><circle cx="625.83" cy="45.2" r="1.4"/><circle cx="627.82" cy="141.2" r="1.4"/><circle cx="625.86" cy="251" r="1.4"/><circle cx="624.12" cy="47.27" r="1.4"/><circle cx="625.14" cy="60.31" r="1.4"/><circle cx="624.33" cy="61.59" r="1.4"/><circle cx="624.45" cy="51.26" r="1.4"/><circle cx="624.14" cy="68.16" r="1.4"/><circle cx="625.15" cy="56.73" r="1.4"/><circle cx="623.58" cy="50.22" r="1.4"/><circle cx="624.1" cy="51.12" r="1.4"/><circle cx="623.28" cy="65.37" r="1.4"/><circle cx="625.66" cy="67.99" r="1.4"/><circle cx="626.82" cy="50.63" r="1.4"/><circle cx="625.72" cy="46.21" r="1.4"/><circle cx="625.16" cy="66.06" r="1.4"/><circle cx="626.95" cy="53.14" r="1.4"/><circle cx="622.62" cy="68.45" r="1.4"/><circle cx="628.29" cy="60.24" r="1.4"/><circle cx="620.41" cy="63.39" r="1.4"/><circle cx="625.61" cy="74.08" r="1.4"/><circle cx="624.48" cy="81.47" r="1.4"/><circle cx="624.98" cy="75.95" r="1.4"/><circle cx="621.23" cy="73.75" r="1.4"/><circle cx="626.48" cy="83.14" r="1.4"/><circle cx="624.74" cy="70.25" r="1.4"/><circle cx="624.42" cy="80.38" r="1.4"/><circle cx="626.29" cy="69.56" r="1.4"/><circle cx="624.5" cy="78.96" r="1.4"/><circle cx="624.43" cy="75.01" r="1.4"/><circle cx="625.92" cy="82.5" r="1.4"/><circle cx="624.08" cy="69.47" r="1.4"/><circle cx="624.91" cy="77.64" r="1.4"/><circle cx="623.48" cy="75.14" r="1.4"/><circle cx="623.1" cy="83.39" r="1.4"/><circle cx="624.27" cy="83.81" r="1.4"/><circle cx="623.05" cy="78.66" r="1.4"/><circle cx="624.73" cy="88.4" r="1.4"/><circle cx="623.73" cy="88.86" r="1.4"/><circle cx="623.14" cy="89.03" r="1.4"/><circle cx="624" cy="91.86" r="1.4"/><circle cx="621.83" cy="88.52" r="1.4"/><circle cx="625.6" cy="88.05" r="1.4"/><circle cx="625.39" cy="97.23" r="1.4"/><circle cx="619.7" cy="95.3" r="1.4"/><circle cx="624.28" cy="89.62" r="1.4"/><circle cx="623.37" cy="101.11" r="1.4"/><circle cx="625.31" cy="88.27" r="1.4"/><circle cx="628.24" cy="94.1" r="1.4"/><circle cx="623.34" cy="87.29" r="1.4"/><circle cx="623.99" cy="98.94" r="1.4"/><circle cx="622.59" cy="99.04" r="1.4"/><circle cx="624.87" cy="89.11" r="1.4"/><circle cx="625.59" cy="97.1" r="1.4"/><circle cx="624.72" cy="129.36" r="1.4"/><circle cx="624.43" cy="105.31" r="1.4"/><circle cx="622.13" cy="106.68" r="1.4"/><circle cx="624.07" cy="112.1" r="1.4"/><circle cx="622.4" cy="133.69" r="1.4"/><circle cx="623.52" cy="102.7" r="1.4"/><circle cx="627.23" cy="121.33" r="1.4"/><circle cx="624.38" cy="117.03" r="1.4"/><circle cx="622.75" cy="110.82" r="1.4"/><circle cx="622.12" cy="116.17" r="1.4"/><circle cx="621.26" cy="133.16" r="1.4"/><circle cx="623.25" cy="103.61" r="1.4"/><circle cx="628.23" cy="133.21" r="1.4"/><circle cx="623.73" cy="107.57" r="1.4"/><circle cx="623.77" cy="126.76" r="1.4"/><circle cx="622.2" cy="131.9" r="1.4"/></g>
<g fill="#e377c2" fill-opacity="0.33"><circle cx="650.16" cy="44.4" r="1.4"/><circle cx="651.7" cy="129.2" r="1.4"/><circle cx="645.64" cy="148" r="1.4"/><circle cx="649.12" cy="149.5" r="1.4"/><circle cx="650.4" cy="151" r="1.4"/><circle cx="644.67" cy="152.5" r="1.4"/><circle cx="648.82" cy="166.3" r="1.4"/><circle cx="647.98" cy="169.5" r="1.4"/><circle cx="645.64" cy="236.8" r="1.4"/><circle cx="650.98" cy="55.76" r="1.4"/><circle cx="648.84" cy="58.89" r="1.4"/><circle cx="647.48" cy="70.28" r="1.4"/><circle cx="649.28" cy="57.92" r="1.4"/><circle cx="649.67" cy="57.87" r="1.4"/><circle cx="649.92" cy="58.62" r="1.4"/><circle cx="649.55" cy="49.77" r="1.4"/><circle cx="649.21" cy="70.4" r="1.4"/><circle cx="646.12" cy="44.6" r="1.4"/><circle cx="647.59" cy="64.01" r="1.4"/><circle cx="648.67" cy="69.88" r="1.4"/><circle cx="643.92" cy="53.67" r="1.4"/><circle cx="652.57" cy="64.09" r="1.4"/><circle cx="647.68" cy="57.61" r="1.4"/><circle cx="646.36" cy="53.2" r="1.4"/><circle cx="644.87" cy="51.74" r="1.4"/><circle cx="648.9" cy="71.71" r="1.4"/><circle cx="648.48" cy="79.93" r="1.4"/><circle cx="647.28" cy="79.26" r="1.4"/><circle cx="647.6" cy="80.67" r="1.4"/><circle cx="646.68" cy="70.96" r="1.4"/><circle cx="646.95" cy="78.24" r="1.4"/><circle cx="648.22" cy="74.07" r="1.4"/><circle cx="647.16" cy="77.7" r="1.4"/><circle cx="649.74" cy="76.6" r="1.4"/><circle cx="648.14" cy="73.97" r="1.4"/><circle cx="648.67" cy="81.38" r="1.4"/><circle cx="649.21" cy="70.41" r="1.4"/><circle cx="650.89" cy="78.83" r="1.4"/><circle cx="649.59" cy="80.04" r="1.4"/><circle cx="648.86" cy="76.16" r="1.4"/><circle cx="648.1" cy="91.95" r="1.4"/><circle cx="646.84" cy="98.91" r="1.4"/><circle cx="647.75" cy="85.76" r="1.4"/><circle cx="649.75" cy="92.59" r="1.4"/><circle cx="648.86" cy="94.56" r="1.4"/><circle cx="647.66" cy="88.25" r="1.4"/><circle cx="645.82" cy="94.02" r="1.4"/><circle cx="645.43" cy="88.51" r="1.4"/><circle cx="649.04" cy="90.8" r="1.4"/><circle cx="650.42" cy="92.3" r="1.4"/><circle cx="649.14" cy="93.42" r="1.4"/><circle cx="645.74" cy="87.27" r="1.4"/><circle cx="648" cy="92.58" r="1.4"/><circle cx="648.85" cy="91.1" r="1.4"/><circle cx="646.63" cy="85.56" r="1.4"/><circle cx="649.09" cy="111.5" r="1.4"/><circle cx="648.03" cy="101.76" r="1.4"/><circle cx="646.79" cy="124.42" r="1.4"/><circle cx="646" cy="106.86" r="1.4"/><circle cx="650" cy="115.78" r="1.4"/><circle cx="649.11" cy="108.37" r="1.4"/><circle cx="646.69" cy="106.96" r="1.4"/><circle cx="646.44" cy="101" r="1.4"/><circle cx="650.15" cy="99.9" r="1.4"/><circle cx="649.58" cy="125.36" r="1.4"/><circle cx="647.82" cy="108.59" r="1.4"/><circle cx="651.52" cy="108.43" r="1.4"/><circle cx="647.85" cy="108.55" r="1.4"/><circle cx="646.36" cy="119.82" r="1.4"/><circle cx="650.54" cy="101.29" r="1.4"/></g>
<g fill="#7f7f7f" fill-opacity="0.33"><circle cx="673.61" cy="34.4" r="1.4"/><circle cx="671.44" cy="127.2" r="1.4"/><circle cx="672.85" cy="132" r="1.4"/><circle cx="673.28" cy="134.4" r="1.4"/><circle cx="670.77" cy="168.9" r="1.4"/><circle cx="672.21" cy="325.6" r="1.4"/><circle cx="670.39" cy="46.57" r="1.4"/><circle cx="673.17" cy="37.22" r="1.4"/><circle cx="671" cy="58.15" r="1.4"/><circle cx="671.69" cy="48.2" r="1.4"/><circle cx="673.08" cy="52.58" r="1.4"/><circle cx="671.38" cy="51.76" r="1.4"/><circle cx="674.88" cy="60.56" r="1.4"/><circle cx="671.42" cy="58.17" r="1.4"/><circle cx="674.3" cy="35.43" r="1.4"/><circle cx="673.2" cy="54.38" r="1.4"/><circle cx="670.65" cy="50.76" r="1.4"/><circle cx="672.23" cy="50.75" r="1.4"/><circle cx="671.03" cy="59.67" r="1.4"/><circle cx="671.95" cy="49.32" r="1.4"/><circle cx="672.13" cy="51.09" r="1.4"/><circle cx="676.18" cy="60.42" r="1.4"/><circle cx="671.84" cy="66.02" r="1.4"/><circle cx="675.69" cy="66.56" r="1.4"/><circle cx="673.52" cy="66.77" r="1.4"/><circle cx="670.12" cy="70.06" r="1.4"/><circle cx="668.17" cy="68.44" r="1.4"/><circle cx="673.97" cy="69.17" r="1.4"/><circle cx="668.79" cy="65.62" r="1.4"/><circle cx="674.04" cy="61.83" r="1.4"/><circle cx="674.65" cy="68.54" r="1.4"/><circle cx="673.41" cy="67.22" r="1.4"/><circle cx="672.25" cy="69.48" r="1.4"/><circle cx="672.17" cy="69.48" r="1.4"/><circle cx="673.15" cy="62.64" r="1.4"/><circle cx="672.06" cy="63.72" r="1.4"/><circle cx="671.61" cy="62.21" r="1.4"/><circle cx="671.93" cy="69.98" r="1.4"/><circle cx="674.92" cy="73.63" r="1.4"/><circle cx="671.45" cy="73.4" r="1.4"/><circle cx="673.39" cy="84.71" r="1.4"/><circle cx="670.42" cy="81.5" r="1.4"/><circle cx="671.27" cy="72.84" r="1.4"/><circle cx="669.99" cy="83.48" r="1.4"/><circle cx="672.27" cy="83.99" r="1.4"/><circle cx="673.97" cy="80.11" r="1.4"/><circle cx="673.24" cy="72.83" r="1.4"/><circle cx="671.7" cy="83.65" r="1.4"/><circle cx="673.84" cy="79" r="1.4"/><circle cx="671.98" cy="81.83" r="1.4"/><circle cx="673.37" cy="88.87" r="1.4"/><circle cx="673.18" cy="85.79" r="1.4"/><circle cx="673.7" cy="86.72" r="1.4"/><circle cx="668.15" cy="74.37" r="1.4"/><circle cx="670.13" cy="94.23" r="1.4"/><circle cx="674.15" cy="100.63" r="1.4"/><circle cx="672.44" cy="88.9" r="1.4"/><circle cx="676.99" cy="126.42" r="1.4"/><circle cx="672.2" cy="92.64" r="1.4"/><circle cx="671.58" cy="92.34" r="1.4"/><circle cx="675.54" cy="93.63" r="1.4"/><circle cx="673.73" cy="92.17" r="1.4"/><circle cx="676.33" cy="118.03" r="1.4"/><circle cx="673.64" cy="102.2" r="1.4"/><circle cx="672.26" cy="100.34" r="1.4"/><circle cx="674.05" cy="96.94" r="1.4"/><circle cx="671.13" cy="89.08" r="1.4"/><circle cx="671.79" cy="93.4" r="1.4"/><circle cx="671.58" cy="118.51" r="1.4"/><circle cx="672.22" cy="114.64" r="1.4"/></g>
<rect x="490.88" y="0.5" width="193.89" height="340.75" fill="none" stroke="#3a3a3a" stroke-width="0.8"/>
<path d="M488.48 320.52H490.88M488.48 281.58H490.88M488.48 242.64H490.88M488.48 203.7H490.88M488.48 164.76H490.88M488.48 125.82H490.88M488.48 86.88H490.88M488.48 47.94H490.88M488.48 9H490.88M503 341.25V343.65M527.23 341.25V343.65M551.47 341.25V343.65M575.71 341.25V343.65M599.94 341.25V343.65M624.18 341.25V343.65M648.42 341.25V343.65M672.65 341.25V343.65" stroke="#3a3a3a" stroke-width="0.8" fill="none"/>
<text x="486.58" y="323.12" font-size="7.3" text-anchor="end">20</text>
<text x="486.58" y="284.18" font-size="7.3" text-anchor="end">30</text>
<text x="486.58" y="245.24" font-size="7.3" text-anchor="end">40</text>
<text x="486.58" y="206.3" font-size="7.3" text-anchor="end">50</text>
<text x="486.58" y="167.36" font-size="7.3" text-anchor="end">60</text>
<text x="486.58" y="128.42" font-size="7.3" text-anchor="end">70</text>
<text x="486.58" y="89.48" font-size="7.3" text-anchor="end">80</text>
<text x="486.58" y="50.54" font-size="7.3" text-anchor="end">90</text>
<text x="486.58" y="11.6" font-size="7.3" text-anchor="end">100</text>
<text transform="translate(470.58 170.4) rotate(-90)" font-size="7.24" text-anchor="middle" textLength="63.2" lengthAdjust="spacingAndGlyphs">Sleep Efficiency (%)</text>
<text transform="translate(508.4 348) rotate(-60)" font-size="7.6" text-anchor="end" textLength="14" lengthAdjust="spacingAndGlyphs">SVM</text>
<text transform="translate(537.68 348) rotate(-60)" font-size="7.6" text-anchor="end" textLength="34.2" lengthAdjust="spacingAndGlyphs">Rnd. Forest</text>
<text transform="translate(563.2 348) rotate(-60)" font-size="7.6" text-anchor="end" textLength="39.3" lengthAdjust="spacingAndGlyphs">Naive Bayes</text>
<text transform="translate(585.26 348) rotate(-60)" font-size="7.6" text-anchor="end" textLength="30.6" lengthAdjust="spacingAndGlyphs">AdaBoost</text>
<text transform="translate(613.47 348) rotate(-60)" font-size="7.6" text-anchor="end" textLength="46.5" lengthAdjust="spacingAndGlyphs">GradientBoost</text>
<text transform="translate(634.78 348) rotate(-60)" font-size="7.6" text-anchor="end" textLength="34.8" lengthAdjust="spacingAndGlyphs">Perceptron</text>
<text transform="translate(658.47 348) rotate(-60)" font-size="7.6" text-anchor="end" textLength="32.6" lengthAdjust="spacingAndGlyphs">lightCNNA</text>
<text transform="translate(677.7 348) rotate(-60)" font-size="7.6" text-anchor="end" textLength="12.6" lengthAdjust="spacingAndGlyphs">PSG</text>
</g></svg></body></html>
